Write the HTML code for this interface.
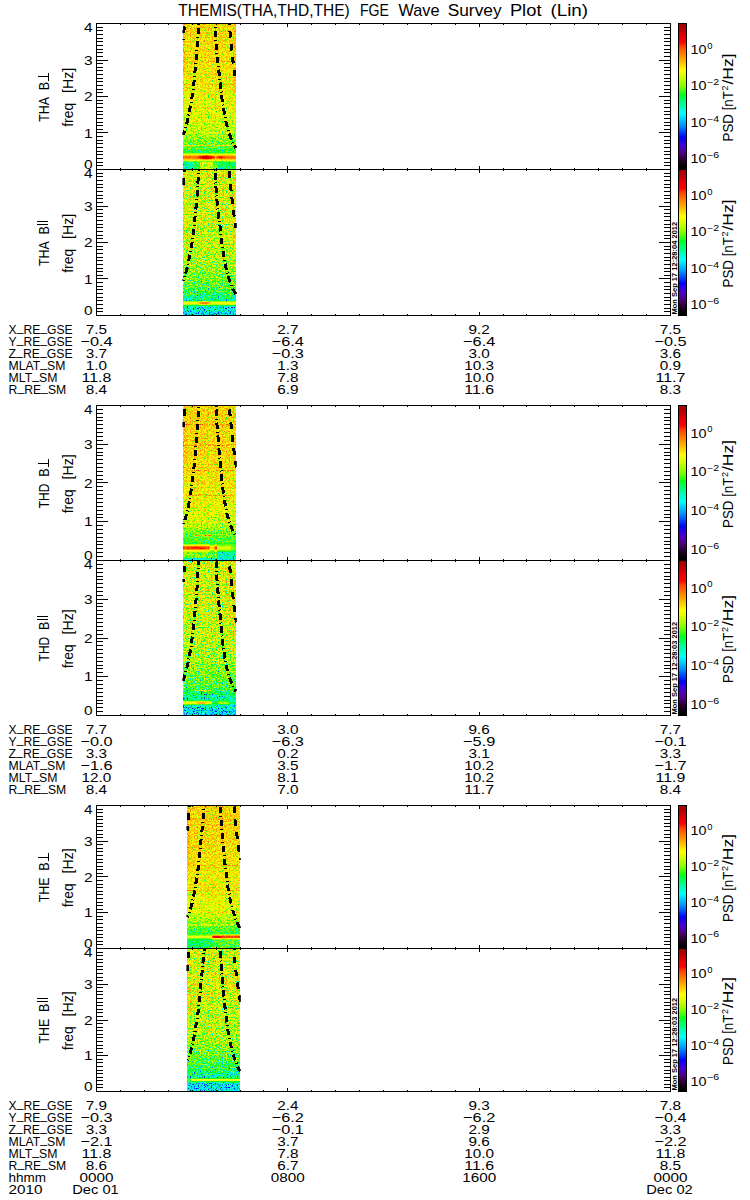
<!DOCTYPE html>
<html><head><meta charset="utf-8"><title>THEMIS FGE Wave Survey Plot</title>
<style>html,body{margin:0;padding:0;background:#fff;}body{width:750px;height:1200px;overflow:hidden;font-family:"Liberation Sans",sans-serif;}svg{display:block}text{font-family:"Liberation Sans",sans-serif;fill:#000;}</style>
</head><body>
<svg width="750" height="1200" viewBox="0 0 750 1200">
<defs>
<linearGradient id="cb" x1="0" y1="0" x2="0" y2="1">
<stop offset="0" stop-color="#9c0000"/>
<stop offset="0.05" stop-color="#c00000"/>
<stop offset="0.09" stop-color="#f00000"/>
<stop offset="0.13" stop-color="#ff0000"/>
<stop offset="0.155" stop-color="#ff3c00"/>
<stop offset="0.205" stop-color="#ff7800"/>
<stop offset="0.265" stop-color="#ffbc00"/>
<stop offset="0.32" stop-color="#ffff00"/>
<stop offset="0.36" stop-color="#dcff00"/>
<stop offset="0.43" stop-color="#80ff00"/>
<stop offset="0.49" stop-color="#00ff20"/>
<stop offset="0.55" stop-color="#00ff90"/>
<stop offset="0.62" stop-color="#00ffff"/>
<stop offset="0.7" stop-color="#0090ff"/>
<stop offset="0.78" stop-color="#0000ff"/>
<stop offset="0.84" stop-color="#4c00d0"/>
<stop offset="0.89" stop-color="#500080"/>
<stop offset="0.94" stop-color="#240028"/>
<stop offset="0.985" stop-color="#000000"/>
<stop offset="1" stop-color="#000000"/>
</linearGradient>
</defs>
<rect width="750" height="1200" fill="#fff"/>
<defs>
<linearGradient id="bg0" x1="0" y1="0" x2="0" y2="1">
<stop offset="0.0000" stop-color="#b9b9b9"/>
<stop offset="0.2500" stop-color="#b6b6b6"/>
<stop offset="0.3750" stop-color="#b4b4b4"/>
<stop offset="0.5000" stop-color="#b0b0b0"/>
<stop offset="0.6250" stop-color="#ababab"/>
<stop offset="0.7250" stop-color="#a4a4a4"/>
<stop offset="0.7625" stop-color="#9f9f9f"/>
<stop offset="0.8000" stop-color="#999999"/>
<stop offset="0.8375" stop-color="#939393"/>
<stop offset="0.8800" stop-color="#8e8e8e"/>
<stop offset="1.0000" stop-color="#8e8e8e"/>
</linearGradient>
<filter id="fn0" filterUnits="userSpaceOnUse" x="183" y="23.5" width="53" height="146.0" color-interpolation-filters="sRGB">
<feTurbulence type="fractalNoise" baseFrequency="0.72 0.7" numOctaves="1" seed="3" result="n"/>
<feColorMatrix in="n" type="matrix" values="1 0 0 0 0 1 0 0 0 0 1 0 0 0 0 0 0 0 0 1" result="g0"/>
<feComponentTransfer in="g0" result="g"><feFuncR type="table" tableValues="0.000 0.010 0.031 0.073 0.135 0.219 0.333 0.458 0.544 0.619 0.685 0.744 0.792 0.831 0.871 0.917 0.937 0.958 0.979 0.990 1.000"/><feFuncG type="table" tableValues="0.000 0.010 0.031 0.073 0.135 0.219 0.333 0.458 0.544 0.619 0.685 0.744 0.792 0.831 0.871 0.917 0.937 0.958 0.979 0.990 1.000"/><feFuncB type="table" tableValues="0.000 0.010 0.031 0.073 0.135 0.219 0.333 0.458 0.544 0.619 0.685 0.744 0.792 0.831 0.871 0.917 0.937 0.958 0.979 0.990 1.000"/></feComponentTransfer>
<feComposite in="SourceGraphic" in2="g" operator="arithmetic" k1="0" k2="1" k3="0.3840" k4="-0.2800" result="v"/>
<feComponentTransfer in="v">
<feFuncR type="table" tableValues="0.000 0.003 0.053 0.102 0.153 0.208 0.263 0.313 0.308 0.303 0.298 0.226 0.147 0.068 0.000 0.000 0.000 0.000 0.000 0.000 0.000 0.000 0.000 0.000 0.000 0.000 0.000 0.000 0.000 0.000 0.000 0.000 0.000 0.116 0.248 0.381 0.509 0.591 0.673 0.755 0.837 0.900 0.954 1.000 1.000 1.000 1.000 1.000 1.000 1.000 1.000 1.000 1.000 1.000 1.000 0.996 0.972 0.949 0.891 0.816 0.746 0.701 0.657 0.612"/>
<feFuncG type="table" tableValues="0.000 0.000 0.000 0.000 0.000 0.000 0.000 0.000 0.000 0.000 0.000 0.000 0.000 0.000 0.016 0.128 0.240 0.352 0.464 0.573 0.660 0.746 0.832 0.919 1.000 1.000 1.000 1.000 1.000 1.000 1.000 1.000 1.000 1.000 1.000 1.000 1.000 1.000 1.000 1.000 1.000 1.000 1.000 0.988 0.912 0.836 0.760 0.688 0.618 0.547 0.477 0.402 0.328 0.253 0.121 0.000 0.000 0.000 0.000 0.000 0.000 0.000 0.000 0.000"/>
<feFuncB type="table" tableValues="0.000 0.003 0.058 0.114 0.181 0.291 0.400 0.509 0.609 0.708 0.808 0.861 0.909 0.958 1.000 1.000 1.000 1.000 1.000 1.000 1.000 1.000 1.000 1.000 0.994 0.895 0.797 0.698 0.599 0.489 0.373 0.257 0.141 0.097 0.063 0.030 0.000 0.000 0.000 0.000 0.000 0.000 0.000 0.000 0.000 0.000 0.000 0.000 0.000 0.000 0.000 0.000 0.000 0.000 0.000 0.000 0.000 0.000 0.000 0.000 0.000 0.000 0.000 0.000"/>
</feComponentTransfer></filter>
<filter id="fs0" filterUnits="userSpaceOnUse" x="183" y="23.5" width="53" height="146.0" color-interpolation-filters="sRGB">
<feTurbulence type="fractalNoise" baseFrequency="0.72 0.7" numOctaves="1" seed="3" result="n"/>
<feColorMatrix in="n" type="matrix" values="1 0 0 0 0 1 0 0 0 0 1 0 0 0 0 0 0 0 0 1" result="g0"/>
<feComponentTransfer in="g0" result="g"><feFuncR type="table" tableValues="0.000 0.010 0.031 0.073 0.135 0.219 0.333 0.458 0.544 0.619 0.685 0.744 0.792 0.831 0.871 0.917 0.937 0.958 0.979 0.990 1.000"/><feFuncG type="table" tableValues="0.000 0.010 0.031 0.073 0.135 0.219 0.333 0.458 0.544 0.619 0.685 0.744 0.792 0.831 0.871 0.917 0.937 0.958 0.979 0.990 1.000"/><feFuncB type="table" tableValues="0.000 0.010 0.031 0.073 0.135 0.219 0.333 0.458 0.544 0.619 0.685 0.744 0.792 0.831 0.871 0.917 0.937 0.958 0.979 0.990 1.000"/></feComponentTransfer>
<feComposite in="SourceGraphic" in2="g" operator="arithmetic" k1="0" k2="1" k3="0.1056" k4="-0.0770" result="v"/>
<feComponentTransfer in="v">
<feFuncR type="table" tableValues="0.000 0.003 0.053 0.102 0.153 0.208 0.263 0.313 0.308 0.303 0.298 0.226 0.147 0.068 0.000 0.000 0.000 0.000 0.000 0.000 0.000 0.000 0.000 0.000 0.000 0.000 0.000 0.000 0.000 0.000 0.000 0.000 0.000 0.116 0.248 0.381 0.509 0.591 0.673 0.755 0.837 0.900 0.954 1.000 1.000 1.000 1.000 1.000 1.000 1.000 1.000 1.000 1.000 1.000 1.000 0.996 0.972 0.949 0.891 0.816 0.746 0.701 0.657 0.612"/>
<feFuncG type="table" tableValues="0.000 0.000 0.000 0.000 0.000 0.000 0.000 0.000 0.000 0.000 0.000 0.000 0.000 0.000 0.016 0.128 0.240 0.352 0.464 0.573 0.660 0.746 0.832 0.919 1.000 1.000 1.000 1.000 1.000 1.000 1.000 1.000 1.000 1.000 1.000 1.000 1.000 1.000 1.000 1.000 1.000 1.000 1.000 0.988 0.912 0.836 0.760 0.688 0.618 0.547 0.477 0.402 0.328 0.253 0.121 0.000 0.000 0.000 0.000 0.000 0.000 0.000 0.000 0.000"/>
<feFuncB type="table" tableValues="0.000 0.003 0.058 0.114 0.181 0.291 0.400 0.509 0.609 0.708 0.808 0.861 0.909 0.958 1.000 1.000 1.000 1.000 1.000 1.000 1.000 1.000 1.000 1.000 0.994 0.895 0.797 0.698 0.599 0.489 0.373 0.257 0.141 0.097 0.063 0.030 0.000 0.000 0.000 0.000 0.000 0.000 0.000 0.000 0.000 0.000 0.000 0.000 0.000 0.000 0.000 0.000 0.000 0.000 0.000 0.000 0.000 0.000 0.000 0.000 0.000 0.000 0.000 0.000"/>
</feComponentTransfer></filter>
<linearGradient id="bg1" x1="0" y1="0" x2="0" y2="1">
<stop offset="0.0000" stop-color="#acacac"/>
<stop offset="0.2500" stop-color="#acacac"/>
<stop offset="0.5000" stop-color="#a8a8a8"/>
<stop offset="0.6250" stop-color="#a2a2a2"/>
<stop offset="0.7500" stop-color="#989898"/>
<stop offset="0.8250" stop-color="#8f8f8f"/>
<stop offset="0.8625" stop-color="#828282"/>
<stop offset="0.9000" stop-color="#787878"/>
<stop offset="1.0000" stop-color="#787878"/>
</linearGradient>
<filter id="fn1" filterUnits="userSpaceOnUse" x="183" y="169.5" width="53" height="146.0" color-interpolation-filters="sRGB">
<feTurbulence type="fractalNoise" baseFrequency="0.72 0.7" numOctaves="1" seed="10" result="n"/>
<feColorMatrix in="n" type="matrix" values="1 0 0 0 0 1 0 0 0 0 1 0 0 0 0 0 0 0 0 1" result="g0"/>
<feComponentTransfer in="g0" result="g"><feFuncR type="table" tableValues="0.000 0.010 0.031 0.073 0.135 0.219 0.333 0.458 0.544 0.619 0.685 0.744 0.792 0.831 0.871 0.917 0.937 0.958 0.979 0.990 1.000"/><feFuncG type="table" tableValues="0.000 0.010 0.031 0.073 0.135 0.219 0.333 0.458 0.544 0.619 0.685 0.744 0.792 0.831 0.871 0.917 0.937 0.958 0.979 0.990 1.000"/><feFuncB type="table" tableValues="0.000 0.010 0.031 0.073 0.135 0.219 0.333 0.458 0.544 0.619 0.685 0.744 0.792 0.831 0.871 0.917 0.937 0.958 0.979 0.990 1.000"/></feComponentTransfer>
<feComposite in="SourceGraphic" in2="g" operator="arithmetic" k1="0" k2="1" k3="0.5376" k4="-0.3920" result="v"/>
<feComponentTransfer in="v">
<feFuncR type="table" tableValues="0.000 0.003 0.053 0.102 0.153 0.208 0.263 0.313 0.308 0.303 0.298 0.226 0.147 0.068 0.000 0.000 0.000 0.000 0.000 0.000 0.000 0.000 0.000 0.000 0.000 0.000 0.000 0.000 0.000 0.000 0.000 0.000 0.000 0.116 0.248 0.381 0.509 0.591 0.673 0.755 0.837 0.900 0.954 1.000 1.000 1.000 1.000 1.000 1.000 1.000 1.000 1.000 1.000 1.000 1.000 0.996 0.972 0.949 0.891 0.816 0.746 0.701 0.657 0.612"/>
<feFuncG type="table" tableValues="0.000 0.000 0.000 0.000 0.000 0.000 0.000 0.000 0.000 0.000 0.000 0.000 0.000 0.000 0.016 0.128 0.240 0.352 0.464 0.573 0.660 0.746 0.832 0.919 1.000 1.000 1.000 1.000 1.000 1.000 1.000 1.000 1.000 1.000 1.000 1.000 1.000 1.000 1.000 1.000 1.000 1.000 1.000 0.988 0.912 0.836 0.760 0.688 0.618 0.547 0.477 0.402 0.328 0.253 0.121 0.000 0.000 0.000 0.000 0.000 0.000 0.000 0.000 0.000"/>
<feFuncB type="table" tableValues="0.000 0.003 0.058 0.114 0.181 0.291 0.400 0.509 0.609 0.708 0.808 0.861 0.909 0.958 1.000 1.000 1.000 1.000 1.000 1.000 1.000 1.000 1.000 1.000 0.994 0.895 0.797 0.698 0.599 0.489 0.373 0.257 0.141 0.097 0.063 0.030 0.000 0.000 0.000 0.000 0.000 0.000 0.000 0.000 0.000 0.000 0.000 0.000 0.000 0.000 0.000 0.000 0.000 0.000 0.000 0.000 0.000 0.000 0.000 0.000 0.000 0.000 0.000 0.000"/>
</feComponentTransfer></filter>
<filter id="fs1" filterUnits="userSpaceOnUse" x="183" y="169.5" width="53" height="146.0" color-interpolation-filters="sRGB">
<feTurbulence type="fractalNoise" baseFrequency="0.72 0.7" numOctaves="1" seed="10" result="n"/>
<feColorMatrix in="n" type="matrix" values="1 0 0 0 0 1 0 0 0 0 1 0 0 0 0 0 0 0 0 1" result="g0"/>
<feComponentTransfer in="g0" result="g"><feFuncR type="table" tableValues="0.000 0.010 0.031 0.073 0.135 0.219 0.333 0.458 0.544 0.619 0.685 0.744 0.792 0.831 0.871 0.917 0.937 0.958 0.979 0.990 1.000"/><feFuncG type="table" tableValues="0.000 0.010 0.031 0.073 0.135 0.219 0.333 0.458 0.544 0.619 0.685 0.744 0.792 0.831 0.871 0.917 0.937 0.958 0.979 0.990 1.000"/><feFuncB type="table" tableValues="0.000 0.010 0.031 0.073 0.135 0.219 0.333 0.458 0.544 0.619 0.685 0.744 0.792 0.831 0.871 0.917 0.937 0.958 0.979 0.990 1.000"/></feComponentTransfer>
<feComposite in="SourceGraphic" in2="g" operator="arithmetic" k1="0" k2="1" k3="0.1056" k4="-0.0770" result="v"/>
<feComponentTransfer in="v">
<feFuncR type="table" tableValues="0.000 0.003 0.053 0.102 0.153 0.208 0.263 0.313 0.308 0.303 0.298 0.226 0.147 0.068 0.000 0.000 0.000 0.000 0.000 0.000 0.000 0.000 0.000 0.000 0.000 0.000 0.000 0.000 0.000 0.000 0.000 0.000 0.000 0.116 0.248 0.381 0.509 0.591 0.673 0.755 0.837 0.900 0.954 1.000 1.000 1.000 1.000 1.000 1.000 1.000 1.000 1.000 1.000 1.000 1.000 0.996 0.972 0.949 0.891 0.816 0.746 0.701 0.657 0.612"/>
<feFuncG type="table" tableValues="0.000 0.000 0.000 0.000 0.000 0.000 0.000 0.000 0.000 0.000 0.000 0.000 0.000 0.000 0.016 0.128 0.240 0.352 0.464 0.573 0.660 0.746 0.832 0.919 1.000 1.000 1.000 1.000 1.000 1.000 1.000 1.000 1.000 1.000 1.000 1.000 1.000 1.000 1.000 1.000 1.000 1.000 1.000 0.988 0.912 0.836 0.760 0.688 0.618 0.547 0.477 0.402 0.328 0.253 0.121 0.000 0.000 0.000 0.000 0.000 0.000 0.000 0.000 0.000"/>
<feFuncB type="table" tableValues="0.000 0.003 0.058 0.114 0.181 0.291 0.400 0.509 0.609 0.708 0.808 0.861 0.909 0.958 1.000 1.000 1.000 1.000 1.000 1.000 1.000 1.000 1.000 1.000 0.994 0.895 0.797 0.698 0.599 0.489 0.373 0.257 0.141 0.097 0.063 0.030 0.000 0.000 0.000 0.000 0.000 0.000 0.000 0.000 0.000 0.000 0.000 0.000 0.000 0.000 0.000 0.000 0.000 0.000 0.000 0.000 0.000 0.000 0.000 0.000 0.000 0.000 0.000 0.000"/>
</feComponentTransfer></filter>
<linearGradient id="bg2" x1="0" y1="0" x2="0" y2="1">
<stop offset="0.0000" stop-color="#bababa"/>
<stop offset="0.2500" stop-color="#b9b9b9"/>
<stop offset="0.4250" stop-color="#b6b6b6"/>
<stop offset="0.6250" stop-color="#b1b1b1"/>
<stop offset="0.7250" stop-color="#aaaaaa"/>
<stop offset="0.7750" stop-color="#a2a2a2"/>
<stop offset="0.8250" stop-color="#969696"/>
<stop offset="0.8750" stop-color="#8c8c8c"/>
<stop offset="1.0000" stop-color="#8c8c8c"/>
</linearGradient>
<filter id="fn2" filterUnits="userSpaceOnUse" x="183" y="405.5" width="53" height="155.0" color-interpolation-filters="sRGB">
<feTurbulence type="fractalNoise" baseFrequency="0.72 0.7" numOctaves="1" seed="17" result="n"/>
<feColorMatrix in="n" type="matrix" values="1 0 0 0 0 1 0 0 0 0 1 0 0 0 0 0 0 0 0 1" result="g0"/>
<feComponentTransfer in="g0" result="g"><feFuncR type="table" tableValues="0.000 0.010 0.031 0.073 0.135 0.219 0.333 0.458 0.544 0.619 0.685 0.744 0.792 0.831 0.871 0.917 0.937 0.958 0.979 0.990 1.000"/><feFuncG type="table" tableValues="0.000 0.010 0.031 0.073 0.135 0.219 0.333 0.458 0.544 0.619 0.685 0.744 0.792 0.831 0.871 0.917 0.937 0.958 0.979 0.990 1.000"/><feFuncB type="table" tableValues="0.000 0.010 0.031 0.073 0.135 0.219 0.333 0.458 0.544 0.619 0.685 0.744 0.792 0.831 0.871 0.917 0.937 0.958 0.979 0.990 1.000"/></feComponentTransfer>
<feComposite in="SourceGraphic" in2="g" operator="arithmetic" k1="0" k2="1" k3="0.3840" k4="-0.2800" result="v"/>
<feComponentTransfer in="v">
<feFuncR type="table" tableValues="0.000 0.003 0.053 0.102 0.153 0.208 0.263 0.313 0.308 0.303 0.298 0.226 0.147 0.068 0.000 0.000 0.000 0.000 0.000 0.000 0.000 0.000 0.000 0.000 0.000 0.000 0.000 0.000 0.000 0.000 0.000 0.000 0.000 0.116 0.248 0.381 0.509 0.591 0.673 0.755 0.837 0.900 0.954 1.000 1.000 1.000 1.000 1.000 1.000 1.000 1.000 1.000 1.000 1.000 1.000 0.996 0.972 0.949 0.891 0.816 0.746 0.701 0.657 0.612"/>
<feFuncG type="table" tableValues="0.000 0.000 0.000 0.000 0.000 0.000 0.000 0.000 0.000 0.000 0.000 0.000 0.000 0.000 0.016 0.128 0.240 0.352 0.464 0.573 0.660 0.746 0.832 0.919 1.000 1.000 1.000 1.000 1.000 1.000 1.000 1.000 1.000 1.000 1.000 1.000 1.000 1.000 1.000 1.000 1.000 1.000 1.000 0.988 0.912 0.836 0.760 0.688 0.618 0.547 0.477 0.402 0.328 0.253 0.121 0.000 0.000 0.000 0.000 0.000 0.000 0.000 0.000 0.000"/>
<feFuncB type="table" tableValues="0.000 0.003 0.058 0.114 0.181 0.291 0.400 0.509 0.609 0.708 0.808 0.861 0.909 0.958 1.000 1.000 1.000 1.000 1.000 1.000 1.000 1.000 1.000 1.000 0.994 0.895 0.797 0.698 0.599 0.489 0.373 0.257 0.141 0.097 0.063 0.030 0.000 0.000 0.000 0.000 0.000 0.000 0.000 0.000 0.000 0.000 0.000 0.000 0.000 0.000 0.000 0.000 0.000 0.000 0.000 0.000 0.000 0.000 0.000 0.000 0.000 0.000 0.000 0.000"/>
</feComponentTransfer></filter>
<filter id="fs2" filterUnits="userSpaceOnUse" x="183" y="405.5" width="53" height="155.0" color-interpolation-filters="sRGB">
<feTurbulence type="fractalNoise" baseFrequency="0.72 0.7" numOctaves="1" seed="17" result="n"/>
<feColorMatrix in="n" type="matrix" values="1 0 0 0 0 1 0 0 0 0 1 0 0 0 0 0 0 0 0 1" result="g0"/>
<feComponentTransfer in="g0" result="g"><feFuncR type="table" tableValues="0.000 0.010 0.031 0.073 0.135 0.219 0.333 0.458 0.544 0.619 0.685 0.744 0.792 0.831 0.871 0.917 0.937 0.958 0.979 0.990 1.000"/><feFuncG type="table" tableValues="0.000 0.010 0.031 0.073 0.135 0.219 0.333 0.458 0.544 0.619 0.685 0.744 0.792 0.831 0.871 0.917 0.937 0.958 0.979 0.990 1.000"/><feFuncB type="table" tableValues="0.000 0.010 0.031 0.073 0.135 0.219 0.333 0.458 0.544 0.619 0.685 0.744 0.792 0.831 0.871 0.917 0.937 0.958 0.979 0.990 1.000"/></feComponentTransfer>
<feComposite in="SourceGraphic" in2="g" operator="arithmetic" k1="0" k2="1" k3="0.1056" k4="-0.0770" result="v"/>
<feComponentTransfer in="v">
<feFuncR type="table" tableValues="0.000 0.003 0.053 0.102 0.153 0.208 0.263 0.313 0.308 0.303 0.298 0.226 0.147 0.068 0.000 0.000 0.000 0.000 0.000 0.000 0.000 0.000 0.000 0.000 0.000 0.000 0.000 0.000 0.000 0.000 0.000 0.000 0.000 0.116 0.248 0.381 0.509 0.591 0.673 0.755 0.837 0.900 0.954 1.000 1.000 1.000 1.000 1.000 1.000 1.000 1.000 1.000 1.000 1.000 1.000 0.996 0.972 0.949 0.891 0.816 0.746 0.701 0.657 0.612"/>
<feFuncG type="table" tableValues="0.000 0.000 0.000 0.000 0.000 0.000 0.000 0.000 0.000 0.000 0.000 0.000 0.000 0.000 0.016 0.128 0.240 0.352 0.464 0.573 0.660 0.746 0.832 0.919 1.000 1.000 1.000 1.000 1.000 1.000 1.000 1.000 1.000 1.000 1.000 1.000 1.000 1.000 1.000 1.000 1.000 1.000 1.000 0.988 0.912 0.836 0.760 0.688 0.618 0.547 0.477 0.402 0.328 0.253 0.121 0.000 0.000 0.000 0.000 0.000 0.000 0.000 0.000 0.000"/>
<feFuncB type="table" tableValues="0.000 0.003 0.058 0.114 0.181 0.291 0.400 0.509 0.609 0.708 0.808 0.861 0.909 0.958 1.000 1.000 1.000 1.000 1.000 1.000 1.000 1.000 1.000 1.000 0.994 0.895 0.797 0.698 0.599 0.489 0.373 0.257 0.141 0.097 0.063 0.030 0.000 0.000 0.000 0.000 0.000 0.000 0.000 0.000 0.000 0.000 0.000 0.000 0.000 0.000 0.000 0.000 0.000 0.000 0.000 0.000 0.000 0.000 0.000 0.000 0.000 0.000 0.000 0.000"/>
</feComponentTransfer></filter>
<linearGradient id="bg3" x1="0" y1="0" x2="0" y2="1">
<stop offset="0.0000" stop-color="#acacac"/>
<stop offset="0.2500" stop-color="#acacac"/>
<stop offset="0.5000" stop-color="#a7a7a7"/>
<stop offset="0.6250" stop-color="#a1a1a1"/>
<stop offset="0.7500" stop-color="#969696"/>
<stop offset="0.8250" stop-color="#8e8e8e"/>
<stop offset="0.8625" stop-color="#7d7d7d"/>
<stop offset="0.9000" stop-color="#757575"/>
<stop offset="1.0000" stop-color="#757575"/>
</linearGradient>
<filter id="fn3" filterUnits="userSpaceOnUse" x="183" y="560.5" width="53" height="155.0" color-interpolation-filters="sRGB">
<feTurbulence type="fractalNoise" baseFrequency="0.72 0.7" numOctaves="1" seed="24" result="n"/>
<feColorMatrix in="n" type="matrix" values="1 0 0 0 0 1 0 0 0 0 1 0 0 0 0 0 0 0 0 1" result="g0"/>
<feComponentTransfer in="g0" result="g"><feFuncR type="table" tableValues="0.000 0.010 0.031 0.073 0.135 0.219 0.333 0.458 0.544 0.619 0.685 0.744 0.792 0.831 0.871 0.917 0.937 0.958 0.979 0.990 1.000"/><feFuncG type="table" tableValues="0.000 0.010 0.031 0.073 0.135 0.219 0.333 0.458 0.544 0.619 0.685 0.744 0.792 0.831 0.871 0.917 0.937 0.958 0.979 0.990 1.000"/><feFuncB type="table" tableValues="0.000 0.010 0.031 0.073 0.135 0.219 0.333 0.458 0.544 0.619 0.685 0.744 0.792 0.831 0.871 0.917 0.937 0.958 0.979 0.990 1.000"/></feComponentTransfer>
<feComposite in="SourceGraphic" in2="g" operator="arithmetic" k1="0" k2="1" k3="0.5376" k4="-0.3920" result="v"/>
<feComponentTransfer in="v">
<feFuncR type="table" tableValues="0.000 0.003 0.053 0.102 0.153 0.208 0.263 0.313 0.308 0.303 0.298 0.226 0.147 0.068 0.000 0.000 0.000 0.000 0.000 0.000 0.000 0.000 0.000 0.000 0.000 0.000 0.000 0.000 0.000 0.000 0.000 0.000 0.000 0.116 0.248 0.381 0.509 0.591 0.673 0.755 0.837 0.900 0.954 1.000 1.000 1.000 1.000 1.000 1.000 1.000 1.000 1.000 1.000 1.000 1.000 0.996 0.972 0.949 0.891 0.816 0.746 0.701 0.657 0.612"/>
<feFuncG type="table" tableValues="0.000 0.000 0.000 0.000 0.000 0.000 0.000 0.000 0.000 0.000 0.000 0.000 0.000 0.000 0.016 0.128 0.240 0.352 0.464 0.573 0.660 0.746 0.832 0.919 1.000 1.000 1.000 1.000 1.000 1.000 1.000 1.000 1.000 1.000 1.000 1.000 1.000 1.000 1.000 1.000 1.000 1.000 1.000 0.988 0.912 0.836 0.760 0.688 0.618 0.547 0.477 0.402 0.328 0.253 0.121 0.000 0.000 0.000 0.000 0.000 0.000 0.000 0.000 0.000"/>
<feFuncB type="table" tableValues="0.000 0.003 0.058 0.114 0.181 0.291 0.400 0.509 0.609 0.708 0.808 0.861 0.909 0.958 1.000 1.000 1.000 1.000 1.000 1.000 1.000 1.000 1.000 1.000 0.994 0.895 0.797 0.698 0.599 0.489 0.373 0.257 0.141 0.097 0.063 0.030 0.000 0.000 0.000 0.000 0.000 0.000 0.000 0.000 0.000 0.000 0.000 0.000 0.000 0.000 0.000 0.000 0.000 0.000 0.000 0.000 0.000 0.000 0.000 0.000 0.000 0.000 0.000 0.000"/>
</feComponentTransfer></filter>
<filter id="fs3" filterUnits="userSpaceOnUse" x="183" y="560.5" width="53" height="155.0" color-interpolation-filters="sRGB">
<feTurbulence type="fractalNoise" baseFrequency="0.72 0.7" numOctaves="1" seed="24" result="n"/>
<feColorMatrix in="n" type="matrix" values="1 0 0 0 0 1 0 0 0 0 1 0 0 0 0 0 0 0 0 1" result="g0"/>
<feComponentTransfer in="g0" result="g"><feFuncR type="table" tableValues="0.000 0.010 0.031 0.073 0.135 0.219 0.333 0.458 0.544 0.619 0.685 0.744 0.792 0.831 0.871 0.917 0.937 0.958 0.979 0.990 1.000"/><feFuncG type="table" tableValues="0.000 0.010 0.031 0.073 0.135 0.219 0.333 0.458 0.544 0.619 0.685 0.744 0.792 0.831 0.871 0.917 0.937 0.958 0.979 0.990 1.000"/><feFuncB type="table" tableValues="0.000 0.010 0.031 0.073 0.135 0.219 0.333 0.458 0.544 0.619 0.685 0.744 0.792 0.831 0.871 0.917 0.937 0.958 0.979 0.990 1.000"/></feComponentTransfer>
<feComposite in="SourceGraphic" in2="g" operator="arithmetic" k1="0" k2="1" k3="0.1056" k4="-0.0770" result="v"/>
<feComponentTransfer in="v">
<feFuncR type="table" tableValues="0.000 0.003 0.053 0.102 0.153 0.208 0.263 0.313 0.308 0.303 0.298 0.226 0.147 0.068 0.000 0.000 0.000 0.000 0.000 0.000 0.000 0.000 0.000 0.000 0.000 0.000 0.000 0.000 0.000 0.000 0.000 0.000 0.000 0.116 0.248 0.381 0.509 0.591 0.673 0.755 0.837 0.900 0.954 1.000 1.000 1.000 1.000 1.000 1.000 1.000 1.000 1.000 1.000 1.000 1.000 0.996 0.972 0.949 0.891 0.816 0.746 0.701 0.657 0.612"/>
<feFuncG type="table" tableValues="0.000 0.000 0.000 0.000 0.000 0.000 0.000 0.000 0.000 0.000 0.000 0.000 0.000 0.000 0.016 0.128 0.240 0.352 0.464 0.573 0.660 0.746 0.832 0.919 1.000 1.000 1.000 1.000 1.000 1.000 1.000 1.000 1.000 1.000 1.000 1.000 1.000 1.000 1.000 1.000 1.000 1.000 1.000 0.988 0.912 0.836 0.760 0.688 0.618 0.547 0.477 0.402 0.328 0.253 0.121 0.000 0.000 0.000 0.000 0.000 0.000 0.000 0.000 0.000"/>
<feFuncB type="table" tableValues="0.000 0.003 0.058 0.114 0.181 0.291 0.400 0.509 0.609 0.708 0.808 0.861 0.909 0.958 1.000 1.000 1.000 1.000 1.000 1.000 1.000 1.000 1.000 1.000 0.994 0.895 0.797 0.698 0.599 0.489 0.373 0.257 0.141 0.097 0.063 0.030 0.000 0.000 0.000 0.000 0.000 0.000 0.000 0.000 0.000 0.000 0.000 0.000 0.000 0.000 0.000 0.000 0.000 0.000 0.000 0.000 0.000 0.000 0.000 0.000 0.000 0.000 0.000 0.000"/>
</feComponentTransfer></filter>
<linearGradient id="bg4" x1="0" y1="0" x2="0" y2="1">
<stop offset="0.0000" stop-color="#bababa"/>
<stop offset="0.2500" stop-color="#b9b9b9"/>
<stop offset="0.3750" stop-color="#b6b6b6"/>
<stop offset="0.6250" stop-color="#b1b1b1"/>
<stop offset="0.7500" stop-color="#aaaaaa"/>
<stop offset="0.8000" stop-color="#9f9f9f"/>
<stop offset="0.8500" stop-color="#949494"/>
<stop offset="0.8875" stop-color="#8a8a8a"/>
<stop offset="1.0000" stop-color="#8a8a8a"/>
</linearGradient>
<filter id="fn4" filterUnits="userSpaceOnUse" x="187" y="805.5" width="53" height="143.0" color-interpolation-filters="sRGB">
<feTurbulence type="fractalNoise" baseFrequency="0.72 0.7" numOctaves="1" seed="31" result="n"/>
<feColorMatrix in="n" type="matrix" values="1 0 0 0 0 1 0 0 0 0 1 0 0 0 0 0 0 0 0 1" result="g0"/>
<feComponentTransfer in="g0" result="g"><feFuncR type="table" tableValues="0.000 0.010 0.031 0.073 0.135 0.219 0.333 0.458 0.544 0.619 0.685 0.744 0.792 0.831 0.871 0.917 0.937 0.958 0.979 0.990 1.000"/><feFuncG type="table" tableValues="0.000 0.010 0.031 0.073 0.135 0.219 0.333 0.458 0.544 0.619 0.685 0.744 0.792 0.831 0.871 0.917 0.937 0.958 0.979 0.990 1.000"/><feFuncB type="table" tableValues="0.000 0.010 0.031 0.073 0.135 0.219 0.333 0.458 0.544 0.619 0.685 0.744 0.792 0.831 0.871 0.917 0.937 0.958 0.979 0.990 1.000"/></feComponentTransfer>
<feComposite in="SourceGraphic" in2="g" operator="arithmetic" k1="0" k2="1" k3="0.3840" k4="-0.2800" result="v"/>
<feComponentTransfer in="v">
<feFuncR type="table" tableValues="0.000 0.003 0.053 0.102 0.153 0.208 0.263 0.313 0.308 0.303 0.298 0.226 0.147 0.068 0.000 0.000 0.000 0.000 0.000 0.000 0.000 0.000 0.000 0.000 0.000 0.000 0.000 0.000 0.000 0.000 0.000 0.000 0.000 0.116 0.248 0.381 0.509 0.591 0.673 0.755 0.837 0.900 0.954 1.000 1.000 1.000 1.000 1.000 1.000 1.000 1.000 1.000 1.000 1.000 1.000 0.996 0.972 0.949 0.891 0.816 0.746 0.701 0.657 0.612"/>
<feFuncG type="table" tableValues="0.000 0.000 0.000 0.000 0.000 0.000 0.000 0.000 0.000 0.000 0.000 0.000 0.000 0.000 0.016 0.128 0.240 0.352 0.464 0.573 0.660 0.746 0.832 0.919 1.000 1.000 1.000 1.000 1.000 1.000 1.000 1.000 1.000 1.000 1.000 1.000 1.000 1.000 1.000 1.000 1.000 1.000 1.000 0.988 0.912 0.836 0.760 0.688 0.618 0.547 0.477 0.402 0.328 0.253 0.121 0.000 0.000 0.000 0.000 0.000 0.000 0.000 0.000 0.000"/>
<feFuncB type="table" tableValues="0.000 0.003 0.058 0.114 0.181 0.291 0.400 0.509 0.609 0.708 0.808 0.861 0.909 0.958 1.000 1.000 1.000 1.000 1.000 1.000 1.000 1.000 1.000 1.000 0.994 0.895 0.797 0.698 0.599 0.489 0.373 0.257 0.141 0.097 0.063 0.030 0.000 0.000 0.000 0.000 0.000 0.000 0.000 0.000 0.000 0.000 0.000 0.000 0.000 0.000 0.000 0.000 0.000 0.000 0.000 0.000 0.000 0.000 0.000 0.000 0.000 0.000 0.000 0.000"/>
</feComponentTransfer></filter>
<filter id="fs4" filterUnits="userSpaceOnUse" x="187" y="805.5" width="53" height="143.0" color-interpolation-filters="sRGB">
<feTurbulence type="fractalNoise" baseFrequency="0.72 0.7" numOctaves="1" seed="31" result="n"/>
<feColorMatrix in="n" type="matrix" values="1 0 0 0 0 1 0 0 0 0 1 0 0 0 0 0 0 0 0 1" result="g0"/>
<feComponentTransfer in="g0" result="g"><feFuncR type="table" tableValues="0.000 0.010 0.031 0.073 0.135 0.219 0.333 0.458 0.544 0.619 0.685 0.744 0.792 0.831 0.871 0.917 0.937 0.958 0.979 0.990 1.000"/><feFuncG type="table" tableValues="0.000 0.010 0.031 0.073 0.135 0.219 0.333 0.458 0.544 0.619 0.685 0.744 0.792 0.831 0.871 0.917 0.937 0.958 0.979 0.990 1.000"/><feFuncB type="table" tableValues="0.000 0.010 0.031 0.073 0.135 0.219 0.333 0.458 0.544 0.619 0.685 0.744 0.792 0.831 0.871 0.917 0.937 0.958 0.979 0.990 1.000"/></feComponentTransfer>
<feComposite in="SourceGraphic" in2="g" operator="arithmetic" k1="0" k2="1" k3="0.1056" k4="-0.0770" result="v"/>
<feComponentTransfer in="v">
<feFuncR type="table" tableValues="0.000 0.003 0.053 0.102 0.153 0.208 0.263 0.313 0.308 0.303 0.298 0.226 0.147 0.068 0.000 0.000 0.000 0.000 0.000 0.000 0.000 0.000 0.000 0.000 0.000 0.000 0.000 0.000 0.000 0.000 0.000 0.000 0.000 0.116 0.248 0.381 0.509 0.591 0.673 0.755 0.837 0.900 0.954 1.000 1.000 1.000 1.000 1.000 1.000 1.000 1.000 1.000 1.000 1.000 1.000 0.996 0.972 0.949 0.891 0.816 0.746 0.701 0.657 0.612"/>
<feFuncG type="table" tableValues="0.000 0.000 0.000 0.000 0.000 0.000 0.000 0.000 0.000 0.000 0.000 0.000 0.000 0.000 0.016 0.128 0.240 0.352 0.464 0.573 0.660 0.746 0.832 0.919 1.000 1.000 1.000 1.000 1.000 1.000 1.000 1.000 1.000 1.000 1.000 1.000 1.000 1.000 1.000 1.000 1.000 1.000 1.000 0.988 0.912 0.836 0.760 0.688 0.618 0.547 0.477 0.402 0.328 0.253 0.121 0.000 0.000 0.000 0.000 0.000 0.000 0.000 0.000 0.000"/>
<feFuncB type="table" tableValues="0.000 0.003 0.058 0.114 0.181 0.291 0.400 0.509 0.609 0.708 0.808 0.861 0.909 0.958 1.000 1.000 1.000 1.000 1.000 1.000 1.000 1.000 1.000 1.000 0.994 0.895 0.797 0.698 0.599 0.489 0.373 0.257 0.141 0.097 0.063 0.030 0.000 0.000 0.000 0.000 0.000 0.000 0.000 0.000 0.000 0.000 0.000 0.000 0.000 0.000 0.000 0.000 0.000 0.000 0.000 0.000 0.000 0.000 0.000 0.000 0.000 0.000 0.000 0.000"/>
</feComponentTransfer></filter>
<linearGradient id="bg5" x1="0" y1="0" x2="0" y2="1">
<stop offset="0.0000" stop-color="#adadad"/>
<stop offset="0.2500" stop-color="#adadad"/>
<stop offset="0.5000" stop-color="#a8a8a8"/>
<stop offset="0.6250" stop-color="#a1a1a1"/>
<stop offset="0.7500" stop-color="#949494"/>
<stop offset="0.8250" stop-color="#8b8b8b"/>
<stop offset="0.8625" stop-color="#828282"/>
<stop offset="0.9000" stop-color="#7a7a7a"/>
<stop offset="1.0000" stop-color="#7a7a7a"/>
</linearGradient>
<filter id="fn5" filterUnits="userSpaceOnUse" x="187" y="948.5" width="53" height="143.0" color-interpolation-filters="sRGB">
<feTurbulence type="fractalNoise" baseFrequency="0.72 0.7" numOctaves="1" seed="38" result="n"/>
<feColorMatrix in="n" type="matrix" values="1 0 0 0 0 1 0 0 0 0 1 0 0 0 0 0 0 0 0 1" result="g0"/>
<feComponentTransfer in="g0" result="g"><feFuncR type="table" tableValues="0.000 0.010 0.031 0.073 0.135 0.219 0.333 0.458 0.544 0.619 0.685 0.744 0.792 0.831 0.871 0.917 0.937 0.958 0.979 0.990 1.000"/><feFuncG type="table" tableValues="0.000 0.010 0.031 0.073 0.135 0.219 0.333 0.458 0.544 0.619 0.685 0.744 0.792 0.831 0.871 0.917 0.937 0.958 0.979 0.990 1.000"/><feFuncB type="table" tableValues="0.000 0.010 0.031 0.073 0.135 0.219 0.333 0.458 0.544 0.619 0.685 0.744 0.792 0.831 0.871 0.917 0.937 0.958 0.979 0.990 1.000"/></feComponentTransfer>
<feComposite in="SourceGraphic" in2="g" operator="arithmetic" k1="0" k2="1" k3="0.5376" k4="-0.3920" result="v"/>
<feComponentTransfer in="v">
<feFuncR type="table" tableValues="0.000 0.003 0.053 0.102 0.153 0.208 0.263 0.313 0.308 0.303 0.298 0.226 0.147 0.068 0.000 0.000 0.000 0.000 0.000 0.000 0.000 0.000 0.000 0.000 0.000 0.000 0.000 0.000 0.000 0.000 0.000 0.000 0.000 0.116 0.248 0.381 0.509 0.591 0.673 0.755 0.837 0.900 0.954 1.000 1.000 1.000 1.000 1.000 1.000 1.000 1.000 1.000 1.000 1.000 1.000 0.996 0.972 0.949 0.891 0.816 0.746 0.701 0.657 0.612"/>
<feFuncG type="table" tableValues="0.000 0.000 0.000 0.000 0.000 0.000 0.000 0.000 0.000 0.000 0.000 0.000 0.000 0.000 0.016 0.128 0.240 0.352 0.464 0.573 0.660 0.746 0.832 0.919 1.000 1.000 1.000 1.000 1.000 1.000 1.000 1.000 1.000 1.000 1.000 1.000 1.000 1.000 1.000 1.000 1.000 1.000 1.000 0.988 0.912 0.836 0.760 0.688 0.618 0.547 0.477 0.402 0.328 0.253 0.121 0.000 0.000 0.000 0.000 0.000 0.000 0.000 0.000 0.000"/>
<feFuncB type="table" tableValues="0.000 0.003 0.058 0.114 0.181 0.291 0.400 0.509 0.609 0.708 0.808 0.861 0.909 0.958 1.000 1.000 1.000 1.000 1.000 1.000 1.000 1.000 1.000 1.000 0.994 0.895 0.797 0.698 0.599 0.489 0.373 0.257 0.141 0.097 0.063 0.030 0.000 0.000 0.000 0.000 0.000 0.000 0.000 0.000 0.000 0.000 0.000 0.000 0.000 0.000 0.000 0.000 0.000 0.000 0.000 0.000 0.000 0.000 0.000 0.000 0.000 0.000 0.000 0.000"/>
</feComponentTransfer></filter>
<filter id="fs5" filterUnits="userSpaceOnUse" x="187" y="948.5" width="53" height="143.0" color-interpolation-filters="sRGB">
<feTurbulence type="fractalNoise" baseFrequency="0.72 0.7" numOctaves="1" seed="38" result="n"/>
<feColorMatrix in="n" type="matrix" values="1 0 0 0 0 1 0 0 0 0 1 0 0 0 0 0 0 0 0 1" result="g0"/>
<feComponentTransfer in="g0" result="g"><feFuncR type="table" tableValues="0.000 0.010 0.031 0.073 0.135 0.219 0.333 0.458 0.544 0.619 0.685 0.744 0.792 0.831 0.871 0.917 0.937 0.958 0.979 0.990 1.000"/><feFuncG type="table" tableValues="0.000 0.010 0.031 0.073 0.135 0.219 0.333 0.458 0.544 0.619 0.685 0.744 0.792 0.831 0.871 0.917 0.937 0.958 0.979 0.990 1.000"/><feFuncB type="table" tableValues="0.000 0.010 0.031 0.073 0.135 0.219 0.333 0.458 0.544 0.619 0.685 0.744 0.792 0.831 0.871 0.917 0.937 0.958 0.979 0.990 1.000"/></feComponentTransfer>
<feComposite in="SourceGraphic" in2="g" operator="arithmetic" k1="0" k2="1" k3="0.1056" k4="-0.0770" result="v"/>
<feComponentTransfer in="v">
<feFuncR type="table" tableValues="0.000 0.003 0.053 0.102 0.153 0.208 0.263 0.313 0.308 0.303 0.298 0.226 0.147 0.068 0.000 0.000 0.000 0.000 0.000 0.000 0.000 0.000 0.000 0.000 0.000 0.000 0.000 0.000 0.000 0.000 0.000 0.000 0.000 0.116 0.248 0.381 0.509 0.591 0.673 0.755 0.837 0.900 0.954 1.000 1.000 1.000 1.000 1.000 1.000 1.000 1.000 1.000 1.000 1.000 1.000 0.996 0.972 0.949 0.891 0.816 0.746 0.701 0.657 0.612"/>
<feFuncG type="table" tableValues="0.000 0.000 0.000 0.000 0.000 0.000 0.000 0.000 0.000 0.000 0.000 0.000 0.000 0.000 0.016 0.128 0.240 0.352 0.464 0.573 0.660 0.746 0.832 0.919 1.000 1.000 1.000 1.000 1.000 1.000 1.000 1.000 1.000 1.000 1.000 1.000 1.000 1.000 1.000 1.000 1.000 1.000 1.000 0.988 0.912 0.836 0.760 0.688 0.618 0.547 0.477 0.402 0.328 0.253 0.121 0.000 0.000 0.000 0.000 0.000 0.000 0.000 0.000 0.000"/>
<feFuncB type="table" tableValues="0.000 0.003 0.058 0.114 0.181 0.291 0.400 0.509 0.609 0.708 0.808 0.861 0.909 0.958 1.000 1.000 1.000 1.000 1.000 1.000 1.000 1.000 1.000 1.000 0.994 0.895 0.797 0.698 0.599 0.489 0.373 0.257 0.141 0.097 0.063 0.030 0.000 0.000 0.000 0.000 0.000 0.000 0.000 0.000 0.000 0.000 0.000 0.000 0.000 0.000 0.000 0.000 0.000 0.000 0.000 0.000 0.000 0.000 0.000 0.000 0.000 0.000 0.000 0.000"/>
</feComponentTransfer></filter>
</defs>
<g filter="url(#fn0)">
<rect x="183" y="23.5" width="53" height="146.0" fill="url(#bg0)"/>
<rect x="183" y="61.32" width="53.00" height="1.0" fill="#fff" fill-opacity="0.188"/>
<rect x="183" y="84.32" width="53.00" height="1.0" fill="#fff" fill-opacity="0.188"/>
<rect x="183" y="107.68" width="53.00" height="1.0" fill="#fff" fill-opacity="0.188"/>
<rect x="183" y="121.19" width="53.00" height="1.0" fill="#fff" fill-opacity="0.188"/>
<rect x="183" y="132.50" width="53.00" height="1.0" fill="#fff" fill-opacity="0.188"/>
<linearGradient id="va0_183" x1="0" y1="0" x2="0" y2="1"><stop offset="0" stop-color="#fff" stop-opacity="0.109"/><stop offset="0.7" stop-color="#fff" stop-opacity="0.109"/><stop offset="1" stop-color="#fff" stop-opacity="0"/></linearGradient>
<rect x="183" y="23.50" width="2.50" height="62.05" fill="url(#va0_183)"/>
<linearGradient id="va0_233" x1="0" y1="0" x2="0" y2="1"><stop offset="0" stop-color="#fff" stop-opacity="0.109"/><stop offset="0.7" stop-color="#fff" stop-opacity="0.109"/><stop offset="1" stop-color="#fff" stop-opacity="0"/></linearGradient>
<rect x="233.5" y="23.50" width="2.50" height="98.55" fill="url(#va0_233)"/>
<rect x="183" y="144.91" width="53.00" height="1.0" fill="#fff" fill-opacity="0.312"/>
<rect x="183" y="161.24" width="10.00" height="8.5" fill="#757575"/>
<rect x="193" y="161.24" width="7.00" height="8.5" fill="#8a8a8a"/>
<rect x="200" y="161.24" width="13.00" height="8.5" fill="#a8a8a8"/>
<rect x="213" y="161.24" width="5.00" height="8.5" fill="#949494"/>
<rect x="218" y="161.24" width="18.00" height="8.5" fill="#7d7d7d"/>
<rect x="183" y="149.84" width="53.00" height="5" fill="#858585"/>
</g>
<clipPath id="bc0"><rect x="183" y="152.60" width="53" height="9.60"/></clipPath>
<g filter="url(#fs0)" clip-path="url(#bc0)">
<linearGradient id="bd0_0" x1="0" y1="0" x2="0" y2="1"><stop offset="0" stop-color="#878787"/><stop offset="0.223" stop-color="#b0b0b0"/><stop offset="0.406" stop-color="#cccccc"/><stop offset="0.594" stop-color="#cccccc"/><stop offset="0.777" stop-color="#b0b0b0"/><stop offset="1" stop-color="#858585"/></linearGradient>
<rect x="183" y="152.60" width="53" height="9.60" fill="url(#bd0_0)"/>
<radialGradient id="rb0"><stop offset="0" stop-color="#fff" stop-opacity="1"/><stop offset="0.55" stop-color="#fff" stop-opacity="0.75"/><stop offset="1" stop-color="#fff" stop-opacity="0"/></radialGradient>
<ellipse cx="206" cy="157.4" rx="10" ry="2.6" fill="url(#rb0)" opacity="0.62"/>
<ellipse cx="205.5" cy="157.4" rx="5" ry="1.8" fill="url(#rb0)" opacity="0.5"/>
<ellipse cx="221" cy="157.4" rx="6" ry="1.6" fill="url(#rb0)" opacity="0.35"/>
<rect x="215.45000000000002" y="152.60" width="0.7" height="9.60" fill="#000" opacity="0.16"/>
</g>
<g filter="url(#fn1)">
<rect x="183" y="169.5" width="53" height="146.0" fill="url(#bg1)"/>
<linearGradient id="va1_183" x1="0" y1="0" x2="0" y2="1"><stop offset="0" stop-color="#fff" stop-opacity="0.094"/><stop offset="0.7" stop-color="#fff" stop-opacity="0.094"/><stop offset="1" stop-color="#fff" stop-opacity="0"/></linearGradient>
<rect x="183" y="169.50" width="2.50" height="91.25" fill="url(#va1_183)"/>
<linearGradient id="va1_232" x1="0" y1="0" x2="0" y2="1"><stop offset="0" stop-color="#fff" stop-opacity="0.094"/><stop offset="0.7" stop-color="#fff" stop-opacity="0.094"/><stop offset="1" stop-color="#fff" stop-opacity="0"/></linearGradient>
<rect x="232" y="169.50" width="4.00" height="109.50" fill="url(#va1_232)"/>
<rect x="183" y="306.00" width="53.00" height="9.5" fill="#6e6e6e"/>
<rect x="183" y="311.88" width="53.00" height="3.6" fill="#636363"/>
</g>
<clipPath id="bc1"><rect x="183" y="300.40" width="53" height="5.60"/></clipPath>
<g filter="url(#fs1)" clip-path="url(#bc1)">
<linearGradient id="bd1_0" x1="0" y1="0" x2="0" y2="1"><stop offset="0" stop-color="#757575"/><stop offset="0.196" stop-color="#949494"/><stop offset="0.357" stop-color="#adadad"/><stop offset="0.643" stop-color="#adadad"/><stop offset="0.804" stop-color="#949494"/><stop offset="1" stop-color="#707070"/></linearGradient>
<rect x="183" y="300.40" width="53" height="5.60" fill="url(#bd1_0)"/>
<radialGradient id="rb1"><stop offset="0" stop-color="#fff" stop-opacity="1"/><stop offset="0.55" stop-color="#fff" stop-opacity="0.75"/><stop offset="1" stop-color="#fff" stop-opacity="0"/></radialGradient>
<ellipse cx="204.5" cy="303.2" rx="8" ry="2.2" fill="url(#rb1)" opacity="0.42"/>
</g>
<g filter="url(#fn2)">
<rect x="183" y="405.5" width="53" height="155.0" fill="url(#bg2)"/>
<rect x="183" y="424.38" width="53.00" height="1.0" fill="#fff" fill-opacity="0.234"/>
<rect x="183" y="444.91" width="53.00" height="1.0" fill="#fff" fill-opacity="0.234"/>
<rect x="183" y="470.10" width="53.00" height="1.0" fill="#fff" fill-opacity="0.234"/>
<rect x="183" y="494.90" width="53.00" height="1.0" fill="#fff" fill-opacity="0.234"/>
<rect x="183" y="521.25" width="53.00" height="1.0" fill="#fff" fill-opacity="0.234"/>
<linearGradient id="va2_183" x1="0" y1="0" x2="0" y2="1"><stop offset="0" stop-color="#fff" stop-opacity="0.109"/><stop offset="0.7" stop-color="#fff" stop-opacity="0.109"/><stop offset="1" stop-color="#fff" stop-opacity="0"/></linearGradient>
<rect x="183" y="405.50" width="2.50" height="77.50" fill="url(#va2_183)"/>
<rect x="195" y="535.20" width="16.00" height="1.0" fill="#fff" fill-opacity="0.625"/>
<rect x="197" y="483.27" width="18.00" height="1.0" fill="#fff" fill-opacity="0.156"/>
<rect x="183" y="551.35" width="34.00" height="9" fill="#999999"/>
<rect x="217" y="551.35" width="19.00" height="9" fill="#707070"/>
<rect x="183" y="557.84" width="53.00" height="3" fill="#6e6e6e"/>
</g>
<clipPath id="bc2"><rect x="183" y="543.30" width="53" height="9.20"/></clipPath>
<g filter="url(#fs2)" clip-path="url(#bc2)">
<linearGradient id="bd2_0" x1="0" y1="0" x2="0" y2="1"><stop offset="0" stop-color="#878787"/><stop offset="0.215" stop-color="#adadad"/><stop offset="0.391" stop-color="#d6d6d6"/><stop offset="0.609" stop-color="#d6d6d6"/><stop offset="0.785" stop-color="#adadad"/><stop offset="1" stop-color="#9e9e9e"/></linearGradient>
<rect x="183" y="543.30" width="34" height="9.20" fill="url(#bd2_0)"/>
<linearGradient id="bd2_1" x1="0" y1="0" x2="0" y2="1"><stop offset="0" stop-color="#878787"/><stop offset="0.221" stop-color="#949494"/><stop offset="0.402" stop-color="#a7a7a7"/><stop offset="0.598" stop-color="#a7a7a7"/><stop offset="0.779" stop-color="#949494"/><stop offset="1" stop-color="#707070"/></linearGradient>
<rect x="217" y="543.30" width="14" height="9.20" fill="url(#bd2_1)"/>
<linearGradient id="bd2_2" x1="0" y1="0" x2="0" y2="1"><stop offset="0" stop-color="#878787"/><stop offset="0.221" stop-color="#8c8c8c"/><stop offset="0.402" stop-color="#949494"/><stop offset="0.598" stop-color="#949494"/><stop offset="0.779" stop-color="#8c8c8c"/><stop offset="1" stop-color="#707070"/></linearGradient>
<rect x="231" y="543.30" width="5" height="9.20" fill="url(#bd2_2)"/>
<radialGradient id="rb2"><stop offset="0" stop-color="#fff" stop-opacity="1"/><stop offset="0.55" stop-color="#fff" stop-opacity="0.75"/><stop offset="1" stop-color="#fff" stop-opacity="0"/></radialGradient>
<ellipse cx="198" cy="547.9" rx="9" ry="1.4" fill="url(#rb2)" opacity="0.22"/>
<rect x="209.5" y="543.30" width="5" height="9.20" fill="#000" opacity="0.14"/>
</g>
<g filter="url(#fn3)">
<rect x="183" y="560.5" width="53" height="155.0" fill="url(#bg3)"/>
<linearGradient id="va3_225" x1="0" y1="0" x2="0" y2="1"><stop offset="0" stop-color="#fff" stop-opacity="0.078"/><stop offset="0.7" stop-color="#fff" stop-opacity="0.078"/><stop offset="1" stop-color="#fff" stop-opacity="0"/></linearGradient>
<rect x="225" y="560.50" width="11.00" height="108.50" fill="url(#va3_225)"/>
<rect x="183" y="705.46" width="53.00" height="10" fill="#6b6b6b"/>
<rect x="183" y="709.40" width="53.00" height="6" fill="#636363"/>
<rect x="195" y="690.20" width="16.00" height="1.0" fill="#fff" fill-opacity="0.375"/>
</g>
<clipPath id="bc3"><rect x="183" y="699.80" width="53" height="5.80"/></clipPath>
<g filter="url(#fs3)" clip-path="url(#bc3)">
<linearGradient id="bd3_0" x1="0" y1="0" x2="0" y2="1"><stop offset="0" stop-color="#707070"/><stop offset="0.199" stop-color="#8c8c8c"/><stop offset="0.362" stop-color="#aaaaaa"/><stop offset="0.638" stop-color="#aaaaaa"/><stop offset="0.801" stop-color="#8c8c8c"/><stop offset="1" stop-color="#787878"/></linearGradient>
<rect x="183" y="699.80" width="29" height="5.80" fill="url(#bd3_0)"/>
<linearGradient id="bd3_1" x1="0" y1="0" x2="0" y2="1"><stop offset="0" stop-color="#707070"/><stop offset="0.199" stop-color="#787878"/><stop offset="0.362" stop-color="#858585"/><stop offset="0.638" stop-color="#858585"/><stop offset="0.801" stop-color="#787878"/><stop offset="1" stop-color="#737373"/></linearGradient>
<rect x="212" y="699.80" width="6" height="5.80" fill="url(#bd3_1)"/>
<linearGradient id="bd3_2" x1="0" y1="0" x2="0" y2="1"><stop offset="0" stop-color="#707070"/><stop offset="0.199" stop-color="#808080"/><stop offset="0.362" stop-color="#999999"/><stop offset="0.638" stop-color="#999999"/><stop offset="0.801" stop-color="#808080"/><stop offset="1" stop-color="#737373"/></linearGradient>
<rect x="218" y="699.80" width="11" height="5.80" fill="url(#bd3_2)"/>
<linearGradient id="bd3_3" x1="0" y1="0" x2="0" y2="1"><stop offset="0" stop-color="#707070"/><stop offset="0.199" stop-color="#737373"/><stop offset="0.362" stop-color="#7a7a7a"/><stop offset="0.638" stop-color="#7a7a7a"/><stop offset="0.801" stop-color="#737373"/><stop offset="1" stop-color="#6e6e6e"/></linearGradient>
<rect x="229" y="699.80" width="7" height="5.80" fill="url(#bd3_3)"/>
<radialGradient id="rb3"><stop offset="0" stop-color="#fff" stop-opacity="1"/><stop offset="0.55" stop-color="#fff" stop-opacity="0.75"/><stop offset="1" stop-color="#fff" stop-opacity="0"/></radialGradient>
<ellipse cx="201.5" cy="702.7" rx="7" ry="1.7" fill="url(#rb3)" opacity="0.3"/>
</g>
<g filter="url(#fn4)">
<rect x="187" y="805.5" width="53" height="143.0" fill="url(#bg4)"/>
<rect x="187" y="818.59" width="53.00" height="1.0" fill="#fff" fill-opacity="0.188"/>
<rect x="187" y="865.06" width="53.00" height="1.0" fill="#fff" fill-opacity="0.188"/>
<rect x="187" y="890.09" width="53.00" height="1.0" fill="#fff" fill-opacity="0.188"/>
<rect x="187" y="911.89" width="53.00" height="1.0" fill="#fff" fill-opacity="0.188"/>
<linearGradient id="va4_187" x1="0" y1="0" x2="0" y2="1"><stop offset="0" stop-color="#fff" stop-opacity="0.109"/><stop offset="0.7" stop-color="#fff" stop-opacity="0.109"/><stop offset="1" stop-color="#fff" stop-opacity="0"/></linearGradient>
<rect x="187" y="805.50" width="2.50" height="85.80" fill="url(#va4_187)"/>
<rect x="187" y="924.40" width="53.00" height="1.0" fill="#fff" fill-opacity="0.281"/>
<rect x="187" y="939.96" width="25.00" height="8.5" fill="#808080"/>
<rect x="212" y="939.96" width="28.00" height="8.5" fill="#919191"/>
</g>
<clipPath id="bc4"><rect x="187" y="933.60" width="53" height="6.40"/></clipPath>
<g filter="url(#fs4)" clip-path="url(#bc4)">
<linearGradient id="bd4_0" x1="0" y1="0" x2="0" y2="1"><stop offset="0" stop-color="#878787"/><stop offset="0.228" stop-color="#8f8f8f"/><stop offset="0.414" stop-color="#ababab"/><stop offset="0.586" stop-color="#ababab"/><stop offset="0.772" stop-color="#8f8f8f"/><stop offset="1" stop-color="#7d7d7d"/></linearGradient>
<rect x="187" y="933.60" width="25" height="6.40" fill="url(#bd4_0)"/>
<linearGradient id="bd4_1" x1="0" y1="0" x2="0" y2="1"><stop offset="0" stop-color="#878787"/><stop offset="0.206" stop-color="#a8a8a8"/><stop offset="0.375" stop-color="#d6d6d6"/><stop offset="0.625" stop-color="#d6d6d6"/><stop offset="0.794" stop-color="#a8a8a8"/><stop offset="1" stop-color="#8c8c8c"/></linearGradient>
<rect x="212" y="933.60" width="28" height="6.40" fill="url(#bd4_1)"/>
<radialGradient id="rb4"><stop offset="0" stop-color="#fff" stop-opacity="1"/><stop offset="0.55" stop-color="#fff" stop-opacity="0.75"/><stop offset="1" stop-color="#fff" stop-opacity="0"/></radialGradient>
<ellipse cx="218" cy="936.8" rx="6" ry="1.4" fill="url(#rb4)" opacity="0.4"/>
</g>
<g filter="url(#fn5)">
<rect x="187" y="948.5" width="53" height="143.0" fill="url(#bg5)"/>
<linearGradient id="va5_187" x1="0" y1="0" x2="0" y2="1"><stop offset="0" stop-color="#fff" stop-opacity="0.094"/><stop offset="0.7" stop-color="#fff" stop-opacity="0.094"/><stop offset="1" stop-color="#fff" stop-opacity="0"/></linearGradient>
<rect x="187" y="948.50" width="3.00" height="89.38" fill="url(#va5_187)"/>
<rect x="187" y="1082.96" width="53.00" height="8.5" fill="#666666"/>
</g>
<clipPath id="bc5"><rect x="187" y="1077.90" width="53" height="4.20"/></clipPath>
<g filter="url(#fs5)" clip-path="url(#bc5)">
<linearGradient id="bd5_0" x1="0" y1="0" x2="0" y2="1"><stop offset="0" stop-color="#757575"/><stop offset="0.196" stop-color="#808080"/><stop offset="0.357" stop-color="#8f8f8f"/><stop offset="0.643" stop-color="#8f8f8f"/><stop offset="0.804" stop-color="#808080"/><stop offset="1" stop-color="#666666"/></linearGradient>
<rect x="187" y="1077.90" width="4" height="4.20" fill="url(#bd5_0)"/>
<linearGradient id="bd5_1" x1="0" y1="0" x2="0" y2="1"><stop offset="0" stop-color="#757575"/><stop offset="0.196" stop-color="#8f8f8f"/><stop offset="0.357" stop-color="#acacac"/><stop offset="0.643" stop-color="#acacac"/><stop offset="0.804" stop-color="#8f8f8f"/><stop offset="1" stop-color="#666666"/></linearGradient>
<rect x="191" y="1077.90" width="49" height="4.20" fill="url(#bd5_1)"/>
</g>
<clipPath id="cl0"><rect x="182.4" y="23.5" width="54.4" height="146.0"/></clipPath>
<g clip-path="url(#cl0)" fill="none" stroke="#000" stroke-width="3" shape-rendering="crispEdges">
<path d="M183.3 134.8 L187.3 121.7 L190.0 108.2 L192.7 93.6 L194.0 81.9 L195.3 68.4 L196.7 54.9 L197.6 41.8 L198.4 28.2 L198.8 23.5" stroke-dasharray="6.4 2.8 1.0 2.8" stroke-dashoffset="2.2"/>
<path d="M215.0 23.5 L215.3 27.2 L216.0 41.8 L217.3 58.9 L219.0 72.4 L220.7 85.6 L222.0 99.1 L223.7 109.6 L226.0 121.7 L228.7 132.3 L232.7 142.9 L235.8 148.0" stroke-dasharray="6.4 2.8 1.0 2.8" stroke-dashoffset="5.8"/>
<path d="M229.5 23.5 L230.0 32.3 L231.3 46.9 L232.7 58.9 L234.4 72.4 L236.0 81.9" stroke-dasharray="6.5 6.5" stroke-dashoffset="5.4"/>
<path d="M183.2 39.9 L184.6 23.5" stroke-dasharray="6.5 6.5" stroke-dashoffset="6"/>
</g>
<clipPath id="cl1"><rect x="182.4" y="169.5" width="54.4" height="146.0"/></clipPath>
<g clip-path="url(#cl1)" fill="none" stroke="#000" stroke-width="3" shape-rendering="crispEdges">
<path d="M183.3 280.8 L187.3 267.7 L190.0 254.2 L192.7 239.6 L194.0 227.9 L195.3 214.4 L196.7 200.9 L197.6 187.8 L198.4 174.2 L198.8 169.5" stroke-dasharray="6.4 2.8 1.0 2.8" stroke-dashoffset="5.4"/>
<path d="M215.0 169.5 L215.3 173.2 L216.0 187.8 L217.3 204.9 L219.0 218.4 L220.7 231.6 L222.0 245.1 L223.7 255.6 L226.0 267.7 L228.7 278.3 L232.7 288.9 L235.8 294.0" stroke-dasharray="6.4 2.8 1.0 2.8" stroke-dashoffset="9.2"/>
<path d="M229.5 169.5 L230.0 178.3 L231.3 192.9 L232.7 204.9 L234.4 218.4 L236.0 227.9" stroke-dasharray="6.5 6.5" stroke-dashoffset="11.2"/>
<path d="M183.2 185.9 L184.6 169.5" stroke-dasharray="6.5 6.5" stroke-dashoffset="11.8"/>
</g>
<clipPath id="cl2"><rect x="182.4" y="405.5" width="54.4" height="155.0"/></clipPath>
<g clip-path="url(#cl2)" fill="none" stroke="#000" stroke-width="3" shape-rendering="crispEdges">
<path d="M183.1 526.0 L186.5 514.4 L189.3 502.0 L191.3 489.6 L192.7 478.4 L194.1 465.9 L195.4 452.4 L196.4 440.0 L197.5 426.8 L198.2 413.6 L198.6 405.5" stroke-dasharray="6.4 2.8 1.0 2.8" stroke-dashoffset="7"/>
<path d="M216.5 405.5 L217.0 424.9 L218.1 438.4 L219.2 452.4 L220.6 464.8 L221.6 477.2 L223.0 489.6 L224.7 502.0 L227.1 514.4 L229.8 523.7 L233.3 532.2 L236.3 536.5" stroke-dasharray="6.4 2.8 1.0 2.8" stroke-dashoffset="9"/>
<path d="M229.1 405.5 L229.8 412.5 L231.2 425.3 L232.6 438.4 L234.0 450.8 L235.7 463.2 L236.4 467.5" stroke-dasharray="6.5 6.5" stroke-dashoffset="9"/>
<path d="M183.2 426.8 L185.4 405.5" stroke-dasharray="6.5 6.5" stroke-dashoffset="2"/>
</g>
<clipPath id="cl3"><rect x="182.4" y="560.5" width="54.4" height="155.0"/></clipPath>
<g clip-path="url(#cl3)" fill="none" stroke="#000" stroke-width="3" shape-rendering="crispEdges">
<path d="M183.1 681.0 L186.5 669.4 L189.3 657.0 L191.3 644.6 L192.7 633.4 L194.1 621.0 L195.4 607.4 L196.4 595.0 L197.5 581.8 L198.2 568.6 L198.6 560.5" stroke-dasharray="6.4 2.8 1.0 2.8" stroke-dashoffset="12.9"/>
<path d="M216.5 560.5 L217.0 579.9 L218.1 593.4 L219.2 607.4 L220.6 619.8 L221.6 632.2 L223.0 644.6 L224.7 657.0 L227.1 669.4 L229.8 678.7 L233.3 687.2 L236.3 691.5" stroke-dasharray="6.4 2.8 1.0 2.8" stroke-dashoffset="12"/>
<path d="M229.1 560.5 L229.8 567.5 L231.2 580.3 L232.6 593.4 L234.0 605.8 L235.7 618.2 L236.4 622.5" stroke-dasharray="6.5 6.5" stroke-dashoffset="7"/>
<path d="M183.2 581.8 L185.4 560.5" stroke-dasharray="6.5 6.5" stroke-dashoffset="3.4"/>
</g>
<clipPath id="cl4"><rect x="186.4" y="805.5" width="54.4" height="143.0"/></clipPath>
<g clip-path="url(#cl4)" fill="none" stroke="#000" stroke-width="3" shape-rendering="crispEdges">
<path d="M187.2 917.0 L188.7 914.9 L192.0 903.5 L194.5 891.7 L196.5 879.5 L198.2 868.4 L199.5 855.5 L200.7 842.7 L202.0 829.8 L203.3 815.5 L204.2 805.5" stroke-dasharray="6.4 2.8 1.0 2.8" stroke-dashoffset="4.6"/>
<path d="M220.3 805.5 L221.3 823.4 L222.3 836.2 L223.4 849.1 L224.7 862.0 L226.2 873.8 L227.8 886.7 L230.1 899.5 L232.7 909.9 L235.9 919.5 L238.5 925.3 L240.2 928.1" stroke-dasharray="6.4 2.8 1.0 2.8" stroke-dashoffset="11.6"/>
<path d="M234.1 805.5 L235.2 822.7 L236.9 835.5 L238.5 847.7 L240.6 859.8" stroke-dasharray="6.5 6.5" stroke-dashoffset="12"/>
<path d="M187.2 830.5 L189.3 805.5" stroke-dasharray="6.5 6.5" stroke-dashoffset="2.2"/>
</g>
<clipPath id="cl5"><rect x="186.4" y="948.5" width="54.4" height="143.0"/></clipPath>
<g clip-path="url(#cl5)" fill="none" stroke="#000" stroke-width="3" shape-rendering="crispEdges">
<path d="M187.2 1060.0 L188.7 1057.9 L192.0 1046.5 L194.5 1034.7 L196.5 1022.5 L198.2 1011.4 L199.5 998.5 L200.7 985.7 L202.0 972.8 L203.3 958.5 L204.2 948.5" stroke-dasharray="6.4 2.8 1.0 2.8" stroke-dashoffset="5.8"/>
<path d="M220.3 948.5 L221.3 966.4 L222.3 979.2 L223.4 992.1 L224.7 1005.0 L226.2 1016.8 L227.8 1029.7 L230.1 1042.5 L232.7 1052.9 L235.9 1062.5 L238.5 1068.3 L240.2 1071.1" stroke-dasharray="6.4 2.8 1.0 2.8" stroke-dashoffset="10.2"/>
<path d="M234.1 948.5 L235.2 965.7 L236.9 978.5 L238.5 990.7 L240.6 1002.8" stroke-dasharray="6.5 6.5" stroke-dashoffset="4.8"/>
<path d="M187.2 973.5 L189.3 948.5" stroke-dasharray="6.5 6.5" stroke-dashoffset="10.6"/>
</g>
<g stroke="#000" stroke-width="1" fill="none" shape-rendering="crispEdges">
<rect x="96.5" y="23.5" width="574.0" height="146.0"/>
<path d="M120.5 23.5v1.5M120.5 169.5v-1.5M144.5 23.5v1.5M144.5 169.5v-1.5M168.5 23.5v1.5M168.5 169.5v-1.5M192.5 23.5v1.5M192.5 169.5v-1.5M216.5 23.5v1.5M216.5 169.5v-1.5M240.5 23.5v1.5M240.5 169.5v-1.5M263.5 23.5v1.5M263.5 169.5v-1.5M287.5 23.5v3.5M287.5 169.5v-3.5M311.5 23.5v1.5M311.5 169.5v-1.5M335.5 23.5v1.5M335.5 169.5v-1.5M359.5 23.5v1.5M359.5 169.5v-1.5M383.5 23.5v1.5M383.5 169.5v-1.5M407.5 23.5v1.5M407.5 169.5v-1.5M431.5 23.5v1.5M431.5 169.5v-1.5M455.5 23.5v1.5M455.5 169.5v-1.5M479.5 23.5v3.5M479.5 169.5v-3.5M503.5 23.5v1.5M503.5 169.5v-1.5M526.5 23.5v1.5M526.5 169.5v-1.5M550.5 23.5v1.5M550.5 169.5v-1.5M574.5 23.5v1.5M574.5 169.5v-1.5M598.5 23.5v1.5M598.5 169.5v-1.5M622.5 23.5v1.5M622.5 169.5v-1.5M646.5 23.5v1.5M646.5 169.5v-1.5"/>
<path d="M96.5 165.5h6.5M670.5 165.5h-6.5M96.5 162.5h6.5M670.5 162.5h-6.5M96.5 158.5h6.5M670.5 158.5h-6.5M96.5 154.5h6.5M670.5 154.5h-6.5M96.5 151.5h6.5M670.5 151.5h-6.5M96.5 147.5h6.5M670.5 147.5h-6.5M96.5 143.5h6.5M670.5 143.5h-6.5M96.5 140.5h6.5M670.5 140.5h-6.5M96.5 136.5h6.5M670.5 136.5h-6.5M96.5 132.5h11.5M670.5 132.5h-11.5M96.5 129.5h6.5M670.5 129.5h-6.5M96.5 125.5h6.5M670.5 125.5h-6.5M96.5 122.5h6.5M670.5 122.5h-6.5M96.5 118.5h6.5M670.5 118.5h-6.5M96.5 114.5h6.5M670.5 114.5h-6.5M96.5 111.5h6.5M670.5 111.5h-6.5M96.5 107.5h6.5M670.5 107.5h-6.5M96.5 103.5h6.5M670.5 103.5h-6.5M96.5 100.5h6.5M670.5 100.5h-6.5M96.5 96.5h11.5M670.5 96.5h-11.5M96.5 92.5h6.5M670.5 92.5h-6.5M96.5 89.5h6.5M670.5 89.5h-6.5M96.5 85.5h6.5M670.5 85.5h-6.5M96.5 81.5h6.5M670.5 81.5h-6.5M96.5 78.5h6.5M670.5 78.5h-6.5M96.5 74.5h6.5M670.5 74.5h-6.5M96.5 70.5h6.5M670.5 70.5h-6.5M96.5 67.5h6.5M670.5 67.5h-6.5M96.5 63.5h6.5M670.5 63.5h-6.5M96.5 60.5h11.5M670.5 60.5h-11.5M96.5 56.5h6.5M670.5 56.5h-6.5M96.5 52.5h6.5M670.5 52.5h-6.5M96.5 49.5h6.5M670.5 49.5h-6.5M96.5 45.5h6.5M670.5 45.5h-6.5M96.5 41.5h6.5M670.5 41.5h-6.5M96.5 38.5h6.5M670.5 38.5h-6.5M96.5 34.5h6.5M670.5 34.5h-6.5M96.5 30.5h6.5M670.5 30.5h-6.5M96.5 27.5h6.5M670.5 27.5h-6.5"/>
<rect x="96.5" y="169.5" width="574.0" height="146.0"/>
<path d="M120.5 169.5v1.5M120.5 315.5v-1.5M144.5 169.5v1.5M144.5 315.5v-1.5M168.5 169.5v1.5M168.5 315.5v-1.5M192.5 169.5v1.5M192.5 315.5v-1.5M216.5 169.5v1.5M216.5 315.5v-1.5M240.5 169.5v1.5M240.5 315.5v-1.5M263.5 169.5v1.5M263.5 315.5v-1.5M287.5 169.5v3.5M287.5 315.5v-3.5M311.5 169.5v1.5M311.5 315.5v-1.5M335.5 169.5v1.5M335.5 315.5v-1.5M359.5 169.5v1.5M359.5 315.5v-1.5M383.5 169.5v1.5M383.5 315.5v-1.5M407.5 169.5v1.5M407.5 315.5v-1.5M431.5 169.5v1.5M431.5 315.5v-1.5M455.5 169.5v1.5M455.5 315.5v-1.5M479.5 169.5v3.5M479.5 315.5v-3.5M503.5 169.5v1.5M503.5 315.5v-1.5M526.5 169.5v1.5M526.5 315.5v-1.5M550.5 169.5v1.5M550.5 315.5v-1.5M574.5 169.5v1.5M574.5 315.5v-1.5M598.5 169.5v1.5M598.5 315.5v-1.5M622.5 169.5v1.5M622.5 315.5v-1.5M646.5 169.5v1.5M646.5 315.5v-1.5"/>
<path d="M96.5 311.5h6.5M670.5 311.5h-6.5M96.5 308.5h6.5M670.5 308.5h-6.5M96.5 304.5h6.5M670.5 304.5h-6.5M96.5 300.5h6.5M670.5 300.5h-6.5M96.5 297.5h6.5M670.5 297.5h-6.5M96.5 293.5h6.5M670.5 293.5h-6.5M96.5 289.5h6.5M670.5 289.5h-6.5M96.5 286.5h6.5M670.5 286.5h-6.5M96.5 282.5h6.5M670.5 282.5h-6.5M96.5 278.5h11.5M670.5 278.5h-11.5M96.5 275.5h6.5M670.5 275.5h-6.5M96.5 271.5h6.5M670.5 271.5h-6.5M96.5 268.5h6.5M670.5 268.5h-6.5M96.5 264.5h6.5M670.5 264.5h-6.5M96.5 260.5h6.5M670.5 260.5h-6.5M96.5 257.5h6.5M670.5 257.5h-6.5M96.5 253.5h6.5M670.5 253.5h-6.5M96.5 249.5h6.5M670.5 249.5h-6.5M96.5 246.5h6.5M670.5 246.5h-6.5M96.5 242.5h11.5M670.5 242.5h-11.5M96.5 238.5h6.5M670.5 238.5h-6.5M96.5 235.5h6.5M670.5 235.5h-6.5M96.5 231.5h6.5M670.5 231.5h-6.5M96.5 227.5h6.5M670.5 227.5h-6.5M96.5 224.5h6.5M670.5 224.5h-6.5M96.5 220.5h6.5M670.5 220.5h-6.5M96.5 216.5h6.5M670.5 216.5h-6.5M96.5 213.5h6.5M670.5 213.5h-6.5M96.5 209.5h6.5M670.5 209.5h-6.5M96.5 206.5h11.5M670.5 206.5h-11.5M96.5 202.5h6.5M670.5 202.5h-6.5M96.5 198.5h6.5M670.5 198.5h-6.5M96.5 195.5h6.5M670.5 195.5h-6.5M96.5 191.5h6.5M670.5 191.5h-6.5M96.5 187.5h6.5M670.5 187.5h-6.5M96.5 184.5h6.5M670.5 184.5h-6.5M96.5 180.5h6.5M670.5 180.5h-6.5M96.5 176.5h6.5M670.5 176.5h-6.5M96.5 173.5h6.5M670.5 173.5h-6.5"/>
<rect x="96.5" y="405.5" width="574.0" height="155.0"/>
<path d="M120.5 405.5v1.5M120.5 560.5v-1.5M144.5 405.5v1.5M144.5 560.5v-1.5M168.5 405.5v1.5M168.5 560.5v-1.5M192.5 405.5v1.5M192.5 560.5v-1.5M216.5 405.5v1.5M216.5 560.5v-1.5M240.5 405.5v1.5M240.5 560.5v-1.5M263.5 405.5v1.5M263.5 560.5v-1.5M287.5 405.5v3.5M287.5 560.5v-3.5M311.5 405.5v1.5M311.5 560.5v-1.5M335.5 405.5v1.5M335.5 560.5v-1.5M359.5 405.5v1.5M359.5 560.5v-1.5M383.5 405.5v1.5M383.5 560.5v-1.5M407.5 405.5v1.5M407.5 560.5v-1.5M431.5 405.5v1.5M431.5 560.5v-1.5M455.5 405.5v1.5M455.5 560.5v-1.5M479.5 405.5v3.5M479.5 560.5v-3.5M503.5 405.5v1.5M503.5 560.5v-1.5M526.5 405.5v1.5M526.5 560.5v-1.5M550.5 405.5v1.5M550.5 560.5v-1.5M574.5 405.5v1.5M574.5 560.5v-1.5M598.5 405.5v1.5M598.5 560.5v-1.5M622.5 405.5v1.5M622.5 560.5v-1.5M646.5 405.5v1.5M646.5 560.5v-1.5"/>
<path d="M96.5 556.5h6.5M670.5 556.5h-6.5M96.5 552.5h6.5M670.5 552.5h-6.5M96.5 548.5h6.5M670.5 548.5h-6.5M96.5 544.5h6.5M670.5 544.5h-6.5M96.5 541.5h6.5M670.5 541.5h-6.5M96.5 537.5h6.5M670.5 537.5h-6.5M96.5 533.5h6.5M670.5 533.5h-6.5M96.5 529.5h6.5M670.5 529.5h-6.5M96.5 525.5h6.5M670.5 525.5h-6.5M96.5 521.5h11.5M670.5 521.5h-11.5M96.5 517.5h6.5M670.5 517.5h-6.5M96.5 514.5h6.5M670.5 514.5h-6.5M96.5 510.5h6.5M670.5 510.5h-6.5M96.5 506.5h6.5M670.5 506.5h-6.5M96.5 502.5h6.5M670.5 502.5h-6.5M96.5 498.5h6.5M670.5 498.5h-6.5M96.5 494.5h6.5M670.5 494.5h-6.5M96.5 490.5h6.5M670.5 490.5h-6.5M96.5 486.5h6.5M670.5 486.5h-6.5M96.5 482.5h11.5M670.5 482.5h-11.5M96.5 479.5h6.5M670.5 479.5h-6.5M96.5 475.5h6.5M670.5 475.5h-6.5M96.5 471.5h6.5M670.5 471.5h-6.5M96.5 467.5h6.5M670.5 467.5h-6.5M96.5 463.5h6.5M670.5 463.5h-6.5M96.5 459.5h6.5M670.5 459.5h-6.5M96.5 455.5h6.5M670.5 455.5h-6.5M96.5 452.5h6.5M670.5 452.5h-6.5M96.5 448.5h6.5M670.5 448.5h-6.5M96.5 444.5h11.5M670.5 444.5h-11.5M96.5 440.5h6.5M670.5 440.5h-6.5M96.5 436.5h6.5M670.5 436.5h-6.5M96.5 432.5h6.5M670.5 432.5h-6.5M96.5 428.5h6.5M670.5 428.5h-6.5M96.5 424.5h6.5M670.5 424.5h-6.5M96.5 420.5h6.5M670.5 420.5h-6.5M96.5 417.5h6.5M670.5 417.5h-6.5M96.5 413.5h6.5M670.5 413.5h-6.5M96.5 409.5h6.5M670.5 409.5h-6.5"/>
<rect x="96.5" y="560.5" width="574.0" height="155.0"/>
<path d="M120.5 560.5v1.5M120.5 715.5v-1.5M144.5 560.5v1.5M144.5 715.5v-1.5M168.5 560.5v1.5M168.5 715.5v-1.5M192.5 560.5v1.5M192.5 715.5v-1.5M216.5 560.5v1.5M216.5 715.5v-1.5M240.5 560.5v1.5M240.5 715.5v-1.5M263.5 560.5v1.5M263.5 715.5v-1.5M287.5 560.5v3.5M287.5 715.5v-3.5M311.5 560.5v1.5M311.5 715.5v-1.5M335.5 560.5v1.5M335.5 715.5v-1.5M359.5 560.5v1.5M359.5 715.5v-1.5M383.5 560.5v1.5M383.5 715.5v-1.5M407.5 560.5v1.5M407.5 715.5v-1.5M431.5 560.5v1.5M431.5 715.5v-1.5M455.5 560.5v1.5M455.5 715.5v-1.5M479.5 560.5v3.5M479.5 715.5v-3.5M503.5 560.5v1.5M503.5 715.5v-1.5M526.5 560.5v1.5M526.5 715.5v-1.5M550.5 560.5v1.5M550.5 715.5v-1.5M574.5 560.5v1.5M574.5 715.5v-1.5M598.5 560.5v1.5M598.5 715.5v-1.5M622.5 560.5v1.5M622.5 715.5v-1.5M646.5 560.5v1.5M646.5 715.5v-1.5"/>
<path d="M96.5 711.5h6.5M670.5 711.5h-6.5M96.5 707.5h6.5M670.5 707.5h-6.5M96.5 703.5h6.5M670.5 703.5h-6.5M96.5 700.5h6.5M670.5 700.5h-6.5M96.5 696.5h6.5M670.5 696.5h-6.5M96.5 692.5h6.5M670.5 692.5h-6.5M96.5 688.5h6.5M670.5 688.5h-6.5M96.5 684.5h6.5M670.5 684.5h-6.5M96.5 680.5h6.5M670.5 680.5h-6.5M96.5 676.5h11.5M670.5 676.5h-11.5M96.5 672.5h6.5M670.5 672.5h-6.5M96.5 668.5h6.5M670.5 668.5h-6.5M96.5 665.5h6.5M670.5 665.5h-6.5M96.5 661.5h6.5M670.5 661.5h-6.5M96.5 657.5h6.5M670.5 657.5h-6.5M96.5 653.5h6.5M670.5 653.5h-6.5M96.5 649.5h6.5M670.5 649.5h-6.5M96.5 645.5h6.5M670.5 645.5h-6.5M96.5 641.5h6.5M670.5 641.5h-6.5M96.5 638.5h11.5M670.5 638.5h-11.5M96.5 634.5h6.5M670.5 634.5h-6.5M96.5 630.5h6.5M670.5 630.5h-6.5M96.5 626.5h6.5M670.5 626.5h-6.5M96.5 622.5h6.5M670.5 622.5h-6.5M96.5 618.5h6.5M670.5 618.5h-6.5M96.5 614.5h6.5M670.5 614.5h-6.5M96.5 610.5h6.5M670.5 610.5h-6.5M96.5 606.5h6.5M670.5 606.5h-6.5M96.5 603.5h6.5M670.5 603.5h-6.5M96.5 599.5h11.5M670.5 599.5h-11.5M96.5 595.5h6.5M670.5 595.5h-6.5M96.5 591.5h6.5M670.5 591.5h-6.5M96.5 587.5h6.5M670.5 587.5h-6.5M96.5 583.5h6.5M670.5 583.5h-6.5M96.5 579.5h6.5M670.5 579.5h-6.5M96.5 576.5h6.5M670.5 576.5h-6.5M96.5 572.5h6.5M670.5 572.5h-6.5M96.5 568.5h6.5M670.5 568.5h-6.5M96.5 564.5h6.5M670.5 564.5h-6.5"/>
<rect x="96.5" y="805.5" width="574.0" height="143.0"/>
<path d="M120.5 805.5v1.5M120.5 948.5v-1.5M144.5 805.5v1.5M144.5 948.5v-1.5M168.5 805.5v1.5M168.5 948.5v-1.5M192.5 805.5v1.5M192.5 948.5v-1.5M216.5 805.5v1.5M216.5 948.5v-1.5M240.5 805.5v1.5M240.5 948.5v-1.5M263.5 805.5v1.5M263.5 948.5v-1.5M287.5 805.5v3.5M287.5 948.5v-3.5M311.5 805.5v1.5M311.5 948.5v-1.5M335.5 805.5v1.5M335.5 948.5v-1.5M359.5 805.5v1.5M359.5 948.5v-1.5M383.5 805.5v1.5M383.5 948.5v-1.5M407.5 805.5v1.5M407.5 948.5v-1.5M431.5 805.5v1.5M431.5 948.5v-1.5M455.5 805.5v1.5M455.5 948.5v-1.5M479.5 805.5v3.5M479.5 948.5v-3.5M503.5 805.5v1.5M503.5 948.5v-1.5M526.5 805.5v1.5M526.5 948.5v-1.5M550.5 805.5v1.5M550.5 948.5v-1.5M574.5 805.5v1.5M574.5 948.5v-1.5M598.5 805.5v1.5M598.5 948.5v-1.5M622.5 805.5v1.5M622.5 948.5v-1.5M646.5 805.5v1.5M646.5 948.5v-1.5"/>
<path d="M96.5 944.5h6.5M670.5 944.5h-6.5M96.5 941.5h6.5M670.5 941.5h-6.5M96.5 937.5h6.5M670.5 937.5h-6.5M96.5 934.5h6.5M670.5 934.5h-6.5M96.5 930.5h6.5M670.5 930.5h-6.5M96.5 927.5h6.5M670.5 927.5h-6.5M96.5 923.5h6.5M670.5 923.5h-6.5M96.5 919.5h6.5M670.5 919.5h-6.5M96.5 916.5h6.5M670.5 916.5h-6.5M96.5 912.5h11.5M670.5 912.5h-11.5M96.5 909.5h6.5M670.5 909.5h-6.5M96.5 905.5h6.5M670.5 905.5h-6.5M96.5 902.5h6.5M670.5 902.5h-6.5M96.5 898.5h6.5M670.5 898.5h-6.5M96.5 894.5h6.5M670.5 894.5h-6.5M96.5 891.5h6.5M670.5 891.5h-6.5M96.5 887.5h6.5M670.5 887.5h-6.5M96.5 884.5h6.5M670.5 884.5h-6.5M96.5 880.5h6.5M670.5 880.5h-6.5M96.5 876.5h11.5M670.5 876.5h-11.5M96.5 873.5h6.5M670.5 873.5h-6.5M96.5 869.5h6.5M670.5 869.5h-6.5M96.5 866.5h6.5M670.5 866.5h-6.5M96.5 862.5h6.5M670.5 862.5h-6.5M96.5 859.5h6.5M670.5 859.5h-6.5M96.5 855.5h6.5M670.5 855.5h-6.5M96.5 851.5h6.5M670.5 851.5h-6.5M96.5 848.5h6.5M670.5 848.5h-6.5M96.5 844.5h6.5M670.5 844.5h-6.5M96.5 841.5h11.5M670.5 841.5h-11.5M96.5 837.5h6.5M670.5 837.5h-6.5M96.5 834.5h6.5M670.5 834.5h-6.5M96.5 830.5h6.5M670.5 830.5h-6.5M96.5 826.5h6.5M670.5 826.5h-6.5M96.5 823.5h6.5M670.5 823.5h-6.5M96.5 819.5h6.5M670.5 819.5h-6.5M96.5 816.5h6.5M670.5 816.5h-6.5M96.5 812.5h6.5M670.5 812.5h-6.5M96.5 809.5h6.5M670.5 809.5h-6.5"/>
<rect x="96.5" y="948.5" width="574.0" height="143.0"/>
<path d="M120.5 948.5v1.5M120.5 1091.5v-1.5M144.5 948.5v1.5M144.5 1091.5v-1.5M168.5 948.5v1.5M168.5 1091.5v-1.5M192.5 948.5v1.5M192.5 1091.5v-1.5M216.5 948.5v1.5M216.5 1091.5v-1.5M240.5 948.5v1.5M240.5 1091.5v-1.5M263.5 948.5v1.5M263.5 1091.5v-1.5M287.5 948.5v3.5M287.5 1091.5v-3.5M311.5 948.5v1.5M311.5 1091.5v-1.5M335.5 948.5v1.5M335.5 1091.5v-1.5M359.5 948.5v1.5M359.5 1091.5v-1.5M383.5 948.5v1.5M383.5 1091.5v-1.5M407.5 948.5v1.5M407.5 1091.5v-1.5M431.5 948.5v1.5M431.5 1091.5v-1.5M455.5 948.5v1.5M455.5 1091.5v-1.5M479.5 948.5v3.5M479.5 1091.5v-3.5M503.5 948.5v1.5M503.5 1091.5v-1.5M526.5 948.5v1.5M526.5 1091.5v-1.5M550.5 948.5v1.5M550.5 1091.5v-1.5M574.5 948.5v1.5M574.5 1091.5v-1.5M598.5 948.5v1.5M598.5 1091.5v-1.5M622.5 948.5v1.5M622.5 1091.5v-1.5M646.5 948.5v1.5M646.5 1091.5v-1.5"/>
<path d="M96.5 1087.5h6.5M670.5 1087.5h-6.5M96.5 1084.5h6.5M670.5 1084.5h-6.5M96.5 1080.5h6.5M670.5 1080.5h-6.5M96.5 1077.5h6.5M670.5 1077.5h-6.5M96.5 1073.5h6.5M670.5 1073.5h-6.5M96.5 1070.5h6.5M670.5 1070.5h-6.5M96.5 1066.5h6.5M670.5 1066.5h-6.5M96.5 1062.5h6.5M670.5 1062.5h-6.5M96.5 1059.5h6.5M670.5 1059.5h-6.5M96.5 1055.5h11.5M670.5 1055.5h-11.5M96.5 1052.5h6.5M670.5 1052.5h-6.5M96.5 1048.5h6.5M670.5 1048.5h-6.5M96.5 1045.5h6.5M670.5 1045.5h-6.5M96.5 1041.5h6.5M670.5 1041.5h-6.5M96.5 1037.5h6.5M670.5 1037.5h-6.5M96.5 1034.5h6.5M670.5 1034.5h-6.5M96.5 1030.5h6.5M670.5 1030.5h-6.5M96.5 1027.5h6.5M670.5 1027.5h-6.5M96.5 1023.5h6.5M670.5 1023.5h-6.5M96.5 1020.5h11.5M670.5 1020.5h-11.5M96.5 1016.5h6.5M670.5 1016.5h-6.5M96.5 1012.5h6.5M670.5 1012.5h-6.5M96.5 1009.5h6.5M670.5 1009.5h-6.5M96.5 1005.5h6.5M670.5 1005.5h-6.5M96.5 1002.5h6.5M670.5 1002.5h-6.5M96.5 998.5h6.5M670.5 998.5h-6.5M96.5 994.5h6.5M670.5 994.5h-6.5M96.5 991.5h6.5M670.5 991.5h-6.5M96.5 987.5h6.5M670.5 987.5h-6.5M96.5 984.5h11.5M670.5 984.5h-11.5M96.5 980.5h6.5M670.5 980.5h-6.5M96.5 977.5h6.5M670.5 977.5h-6.5M96.5 973.5h6.5M670.5 973.5h-6.5M96.5 969.5h6.5M670.5 969.5h-6.5M96.5 966.5h6.5M670.5 966.5h-6.5M96.5 962.5h6.5M670.5 962.5h-6.5M96.5 959.5h6.5M670.5 959.5h-6.5M96.5 955.5h6.5M670.5 955.5h-6.5M96.5 952.5h6.5M670.5 952.5h-6.5"/>
</g>
<rect x="678.5" y="23.5" width="8.0" height="146.0" fill="url(#cb)" stroke="#000" stroke-width="1" shape-rendering="crispEdges"/>
<rect x="678.5" y="169.5" width="8.0" height="146.0" fill="url(#cb)" stroke="#000" stroke-width="1" shape-rendering="crispEdges"/>
<rect x="678.5" y="405.5" width="8.0" height="155.0" fill="url(#cb)" stroke="#000" stroke-width="1" shape-rendering="crispEdges"/>
<rect x="678.5" y="560.5" width="8.0" height="155.0" fill="url(#cb)" stroke="#000" stroke-width="1" shape-rendering="crispEdges"/>
<rect x="678.5" y="805.5" width="8.0" height="143.0" fill="url(#cb)" stroke="#000" stroke-width="1" shape-rendering="crispEdges"/>
<rect x="678.5" y="948.5" width="8.0" height="143.0" fill="url(#cb)" stroke="#000" stroke-width="1" shape-rendering="crispEdges"/>
<text transform="translate(178.20 16.20) translate(0.00 0) scale(0.9703 1.0)" font-size="15.99" >THEMIS(THA,THD,THE)</text>
<text transform="translate(360.00 16.20) translate(0.00 0) scale(0.8823 1.0)" font-size="15.99" >FGE</text>
<text transform="translate(398.40 16.20) translate(0.00 0) scale(1.0205 1.0)" font-size="15.99" >Wave</text>
<text transform="translate(447.70 16.20) translate(0.00 0) scale(1.0832 1.0)" font-size="15.99" >Survey</text>
<text transform="translate(509.90 16.20) translate(0.00 0) scale(1.1470 1.0)" font-size="15.99" >Plot</text>
<text transform="translate(550.40 16.20) translate(0.00 0) scale(1.1787 1.0)" font-size="15.99" >(Lin)</text>
<text transform="translate(92.60 169.10) translate(-8.60 0) scale(1.1821 1.0)" font-size="13.08" >0</text>
<text transform="translate(92.60 137.70) translate(-8.60 0) scale(1.1821 1.0)" font-size="13.08" >1</text>
<text transform="translate(92.60 101.20) translate(-8.60 0) scale(1.1821 1.0)" font-size="13.08" >2</text>
<text transform="translate(92.60 64.70) translate(-8.60 0) scale(1.1821 1.0)" font-size="13.08" >3</text>
<text transform="translate(92.60 32.10) translate(-8.60 0) scale(1.1821 1.0)" font-size="13.08" >4</text>
<text transform="translate(49.00 121.70) rotate(-90) translate(0.00 0) scale(0.8635 1.0)" font-size="14.24" >THA</text>
<text transform="translate(49.00 90.30) rotate(-90) translate(0.00 0) scale(0.8736 1.0)" font-size="14.24" >B</text>
<path d="M48.5 80.5v-8 M37.5 76.5h11" stroke="#000" stroke-width="1" fill="none" shape-rendering="crispEdges"/>
<text transform="translate(73.20 126.80) rotate(-90) translate(0.00 0) scale(0.9778 1.0)" font-size="14.24" >freq</text>
<text transform="translate(73.20 92.90) rotate(-90) translate(0.00 0) scale(0.9872 1.0)" font-size="14.24" >[Hz]</text>
<text transform="translate(690.60 53.91) translate(0.00 0) scale(1.0996 1.0)" font-size="13.08" >10</text>
<text transform="translate(707.20 48.71) translate(0.00 0) scale(1.1240 1.0)" font-size="8.43" >0</text>
<text transform="translate(690.60 90.41) translate(0.00 0) scale(1.0996 1.0)" font-size="13.08" >10</text>
<text transform="translate(707.20 85.21) translate(0.00 0) scale(1.2514 1.0)" font-size="8.43" >−2</text>
<text transform="translate(690.60 126.91) translate(0.00 0) scale(1.0996 1.0)" font-size="13.08" >10</text>
<text transform="translate(707.20 121.71) translate(0.00 0) scale(1.2514 1.0)" font-size="8.43" >−4</text>
<text transform="translate(690.60 163.41) translate(0.00 0) scale(1.0996 1.0)" font-size="13.08" >10</text>
<text transform="translate(707.20 158.22) translate(0.00 0) scale(1.2514 1.0)" font-size="8.43" >−6</text>
<text transform="translate(733.20 141.50) rotate(-90) translate(0.00 0) scale(0.9382 1.0)" font-size="14.24" >PSD [nT</text>
<text transform="translate(727.80 90.50) rotate(-90) translate(0.00 0) scale(1.0664 1.0)" font-size="8.43" >2</text>
<text transform="translate(733.20 84.50) rotate(-90) translate(0.00 0) scale(1.2241 1.0)" font-size="14.24" >/Hz]</text>
<text transform="translate(92.60 315.10) translate(-8.60 0) scale(1.1821 1.0)" font-size="13.08" >0</text>
<text transform="translate(92.60 283.70) translate(-8.60 0) scale(1.1821 1.0)" font-size="13.08" >1</text>
<text transform="translate(92.60 247.20) translate(-8.60 0) scale(1.1821 1.0)" font-size="13.08" >2</text>
<text transform="translate(92.60 210.70) translate(-8.60 0) scale(1.1821 1.0)" font-size="13.08" >3</text>
<text transform="translate(92.60 178.10) translate(-8.60 0) scale(1.1821 1.0)" font-size="13.08" >4</text>
<text transform="translate(49.00 265.90) rotate(-90) translate(0.00 0) scale(0.8635 1.0)" font-size="14.24" >THA</text>
<text transform="translate(49.00 234.50) rotate(-90) translate(0.00 0) scale(0.8736 1.0)" font-size="14.24" >B</text>
<path d="M37 224.0h11 M37 221.0h11" stroke="#000" stroke-width="1" fill="none" shape-rendering="crispEdges"/>
<text transform="translate(73.20 272.80) rotate(-90) translate(0.00 0) scale(0.9778 1.0)" font-size="14.24" >freq</text>
<text transform="translate(73.20 238.90) rotate(-90) translate(0.00 0) scale(0.9872 1.0)" font-size="14.24" >[Hz]</text>
<text transform="translate(690.60 199.91) translate(0.00 0) scale(1.0996 1.0)" font-size="13.08" >10</text>
<text transform="translate(707.20 194.72) translate(0.00 0) scale(1.1240 1.0)" font-size="8.43" >0</text>
<text transform="translate(690.60 236.41) translate(0.00 0) scale(1.0996 1.0)" font-size="13.08" >10</text>
<text transform="translate(707.20 231.22) translate(0.00 0) scale(1.2514 1.0)" font-size="8.43" >−2</text>
<text transform="translate(690.60 272.92) translate(0.00 0) scale(1.0996 1.0)" font-size="13.08" >10</text>
<text transform="translate(707.20 267.72) translate(0.00 0) scale(1.2514 1.0)" font-size="8.43" >−4</text>
<text transform="translate(690.60 309.42) translate(0.00 0) scale(1.0996 1.0)" font-size="13.08" >10</text>
<text transform="translate(707.20 304.22) translate(0.00 0) scale(1.2514 1.0)" font-size="8.43" >−6</text>
<text transform="translate(733.20 287.50) rotate(-90) translate(0.00 0) scale(0.9382 1.0)" font-size="14.24" >PSD [nT</text>
<text transform="translate(727.80 236.50) rotate(-90) translate(0.00 0) scale(1.0664 1.0)" font-size="8.43" >2</text>
<text transform="translate(733.20 230.50) rotate(-90) translate(0.00 0) scale(1.2241 1.0)" font-size="14.24" >/Hz]</text>
<text transform="translate(92.60 560.10) translate(-8.60 0) scale(1.1821 1.0)" font-size="13.08" >0</text>
<text transform="translate(92.60 526.45) translate(-8.60 0) scale(1.1821 1.0)" font-size="13.08" >1</text>
<text transform="translate(92.60 487.70) translate(-8.60 0) scale(1.1821 1.0)" font-size="13.08" >2</text>
<text transform="translate(92.60 448.95) translate(-8.60 0) scale(1.1821 1.0)" font-size="13.08" >3</text>
<text transform="translate(92.60 414.10) translate(-8.60 0) scale(1.1821 1.0)" font-size="13.08" >4</text>
<text transform="translate(49.00 508.20) rotate(-90) translate(0.00 0) scale(0.8403 1.0)" font-size="14.24" >THD</text>
<text transform="translate(49.00 476.80) rotate(-90) translate(0.00 0) scale(0.8736 1.0)" font-size="14.24" >B</text>
<path d="M48.5 467.0v-8 M37.5 463.0h11" stroke="#000" stroke-width="1" fill="none" shape-rendering="crispEdges"/>
<text transform="translate(73.20 513.30) rotate(-90) translate(0.00 0) scale(0.9778 1.0)" font-size="14.24" >freq</text>
<text transform="translate(73.20 479.40) rotate(-90) translate(0.00 0) scale(0.9872 1.0)" font-size="14.24" >[Hz]</text>
<text transform="translate(690.60 437.51) translate(0.00 0) scale(1.0996 1.0)" font-size="13.08" >10</text>
<text transform="translate(707.20 432.31) translate(0.00 0) scale(1.1240 1.0)" font-size="8.43" >0</text>
<text transform="translate(690.60 476.26) translate(0.00 0) scale(1.0996 1.0)" font-size="13.08" >10</text>
<text transform="translate(707.20 471.06) translate(0.00 0) scale(1.2514 1.0)" font-size="8.43" >−2</text>
<text transform="translate(690.60 515.01) translate(0.00 0) scale(1.0996 1.0)" font-size="13.08" >10</text>
<text transform="translate(707.20 509.81) translate(0.00 0) scale(1.2514 1.0)" font-size="8.43" >−4</text>
<text transform="translate(690.60 553.76) translate(0.00 0) scale(1.0996 1.0)" font-size="13.08" >10</text>
<text transform="translate(707.20 548.56) translate(0.00 0) scale(1.2514 1.0)" font-size="8.43" >−6</text>
<text transform="translate(733.20 528.00) rotate(-90) translate(0.00 0) scale(0.9382 1.0)" font-size="14.24" >PSD [nT</text>
<text transform="translate(727.80 477.00) rotate(-90) translate(0.00 0) scale(1.0664 1.0)" font-size="8.43" >2</text>
<text transform="translate(733.20 471.00) rotate(-90) translate(0.00 0) scale(1.2241 1.0)" font-size="14.24" >/Hz]</text>
<text transform="translate(92.60 715.10) translate(-8.60 0) scale(1.1821 1.0)" font-size="13.08" >0</text>
<text transform="translate(92.60 681.45) translate(-8.60 0) scale(1.1821 1.0)" font-size="13.08" >1</text>
<text transform="translate(92.60 642.70) translate(-8.60 0) scale(1.1821 1.0)" font-size="13.08" >2</text>
<text transform="translate(92.60 603.95) translate(-8.60 0) scale(1.1821 1.0)" font-size="13.08" >3</text>
<text transform="translate(92.60 569.10) translate(-8.60 0) scale(1.1821 1.0)" font-size="13.08" >4</text>
<text transform="translate(49.00 661.40) rotate(-90) translate(0.00 0) scale(0.8403 1.0)" font-size="14.24" >THD</text>
<text transform="translate(49.00 630.00) rotate(-90) translate(0.00 0) scale(0.8736 1.0)" font-size="14.24" >B</text>
<path d="M37 619.5h11 M37 616.5h11" stroke="#000" stroke-width="1" fill="none" shape-rendering="crispEdges"/>
<text transform="translate(73.20 668.30) rotate(-90) translate(0.00 0) scale(0.9778 1.0)" font-size="14.24" >freq</text>
<text transform="translate(73.20 634.40) rotate(-90) translate(0.00 0) scale(0.9872 1.0)" font-size="14.24" >[Hz]</text>
<text transform="translate(690.60 592.51) translate(0.00 0) scale(1.0996 1.0)" font-size="13.08" >10</text>
<text transform="translate(707.20 587.31) translate(0.00 0) scale(1.1240 1.0)" font-size="8.43" >0</text>
<text transform="translate(690.60 631.26) translate(0.00 0) scale(1.0996 1.0)" font-size="13.08" >10</text>
<text transform="translate(707.20 626.06) translate(0.00 0) scale(1.2514 1.0)" font-size="8.43" >−2</text>
<text transform="translate(690.60 670.01) translate(0.00 0) scale(1.0996 1.0)" font-size="13.08" >10</text>
<text transform="translate(707.20 664.81) translate(0.00 0) scale(1.2514 1.0)" font-size="8.43" >−4</text>
<text transform="translate(690.60 708.76) translate(0.00 0) scale(1.0996 1.0)" font-size="13.08" >10</text>
<text transform="translate(707.20 703.56) translate(0.00 0) scale(1.2514 1.0)" font-size="8.43" >−6</text>
<text transform="translate(733.20 683.00) rotate(-90) translate(0.00 0) scale(0.9382 1.0)" font-size="14.24" >PSD [nT</text>
<text transform="translate(727.80 632.00) rotate(-90) translate(0.00 0) scale(1.0664 1.0)" font-size="8.43" >2</text>
<text transform="translate(733.20 626.00) rotate(-90) translate(0.00 0) scale(1.2241 1.0)" font-size="14.24" >/Hz]</text>
<text transform="translate(92.60 948.10) translate(-8.60 0) scale(1.1821 1.0)" font-size="13.08" >0</text>
<text transform="translate(92.60 917.45) translate(-8.60 0) scale(1.1821 1.0)" font-size="13.08" >1</text>
<text transform="translate(92.60 881.70) translate(-8.60 0) scale(1.1821 1.0)" font-size="13.08" >2</text>
<text transform="translate(92.60 845.95) translate(-8.60 0) scale(1.1821 1.0)" font-size="13.08" >3</text>
<text transform="translate(92.60 814.10) translate(-8.60 0) scale(1.1821 1.0)" font-size="13.08" >4</text>
<text transform="translate(49.00 902.20) rotate(-90) translate(0.00 0) scale(0.8635 1.0)" font-size="14.24" >THE</text>
<text transform="translate(49.00 870.80) rotate(-90) translate(0.00 0) scale(0.8736 1.0)" font-size="14.24" >B</text>
<path d="M48.5 861.0v-8 M37.5 857.0h11" stroke="#000" stroke-width="1" fill="none" shape-rendering="crispEdges"/>
<text transform="translate(73.20 907.30) rotate(-90) translate(0.00 0) scale(0.9778 1.0)" font-size="14.24" >freq</text>
<text transform="translate(73.20 873.40) rotate(-90) translate(0.00 0) scale(0.9872 1.0)" font-size="14.24" >[Hz]</text>
<text transform="translate(690.60 835.38) translate(0.00 0) scale(1.0996 1.0)" font-size="13.08" >10</text>
<text transform="translate(707.20 830.18) translate(0.00 0) scale(1.1240 1.0)" font-size="8.43" >0</text>
<text transform="translate(690.60 871.13) translate(0.00 0) scale(1.0996 1.0)" font-size="13.08" >10</text>
<text transform="translate(707.20 865.93) translate(0.00 0) scale(1.2514 1.0)" font-size="8.43" >−2</text>
<text transform="translate(690.60 906.88) translate(0.00 0) scale(1.0996 1.0)" font-size="13.08" >10</text>
<text transform="translate(707.20 901.68) translate(0.00 0) scale(1.2514 1.0)" font-size="8.43" >−4</text>
<text transform="translate(690.60 942.63) translate(0.00 0) scale(1.0996 1.0)" font-size="13.08" >10</text>
<text transform="translate(707.20 937.43) translate(0.00 0) scale(1.2514 1.0)" font-size="8.43" >−6</text>
<text transform="translate(733.20 922.00) rotate(-90) translate(0.00 0) scale(0.9382 1.0)" font-size="14.24" >PSD [nT</text>
<text transform="translate(727.80 871.00) rotate(-90) translate(0.00 0) scale(1.0664 1.0)" font-size="8.43" >2</text>
<text transform="translate(733.20 865.00) rotate(-90) translate(0.00 0) scale(1.2241 1.0)" font-size="14.24" >/Hz]</text>
<text transform="translate(92.60 1091.10) translate(-8.60 0) scale(1.1821 1.0)" font-size="13.08" >0</text>
<text transform="translate(92.60 1060.45) translate(-8.60 0) scale(1.1821 1.0)" font-size="13.08" >1</text>
<text transform="translate(92.60 1024.70) translate(-8.60 0) scale(1.1821 1.0)" font-size="13.08" >2</text>
<text transform="translate(92.60 988.95) translate(-8.60 0) scale(1.1821 1.0)" font-size="13.08" >3</text>
<text transform="translate(92.60 957.10) translate(-8.60 0) scale(1.1821 1.0)" font-size="13.08" >4</text>
<text transform="translate(49.00 1043.40) rotate(-90) translate(0.00 0) scale(0.8635 1.0)" font-size="14.24" >THE</text>
<text transform="translate(49.00 1012.00) rotate(-90) translate(0.00 0) scale(0.8736 1.0)" font-size="14.24" >B</text>
<path d="M37 1001.5h11 M37 998.5h11" stroke="#000" stroke-width="1" fill="none" shape-rendering="crispEdges"/>
<text transform="translate(73.20 1050.30) rotate(-90) translate(0.00 0) scale(0.9778 1.0)" font-size="14.24" >freq</text>
<text transform="translate(73.20 1016.40) rotate(-90) translate(0.00 0) scale(0.9872 1.0)" font-size="14.24" >[Hz]</text>
<text transform="translate(690.60 978.38) translate(0.00 0) scale(1.0996 1.0)" font-size="13.08" >10</text>
<text transform="translate(707.20 973.18) translate(0.00 0) scale(1.1240 1.0)" font-size="8.43" >0</text>
<text transform="translate(690.60 1014.13) translate(0.00 0) scale(1.0996 1.0)" font-size="13.08" >10</text>
<text transform="translate(707.20 1008.93) translate(0.00 0) scale(1.2514 1.0)" font-size="8.43" >−2</text>
<text transform="translate(690.60 1049.88) translate(0.00 0) scale(1.0996 1.0)" font-size="13.08" >10</text>
<text transform="translate(707.20 1044.68) translate(0.00 0) scale(1.2514 1.0)" font-size="8.43" >−4</text>
<text transform="translate(690.60 1085.63) translate(0.00 0) scale(1.0996 1.0)" font-size="13.08" >10</text>
<text transform="translate(707.20 1080.43) translate(0.00 0) scale(1.2514 1.0)" font-size="8.43" >−6</text>
<text transform="translate(733.20 1065.00) rotate(-90) translate(0.00 0) scale(0.9382 1.0)" font-size="14.24" >PSD [nT</text>
<text transform="translate(727.80 1014.00) rotate(-90) translate(0.00 0) scale(1.0664 1.0)" font-size="8.43" >2</text>
<text transform="translate(733.20 1008.00) rotate(-90) translate(0.00 0) scale(1.2241 1.0)" font-size="14.24" >/Hz]</text>
<text transform="translate(677.0 314.5) rotate(-90) scale(1.14 1)" font-size="6.6" font-weight="bold">Mon Sep 17 12:28:04 2012</text>
<text transform="translate(677.0 714.5) rotate(-90) scale(1.14 1)" font-size="6.6" font-weight="bold">Mon Sep 17 12:28:03 2012</text>
<text transform="translate(677.0 1090.5) rotate(-90) scale(1.14 1)" font-size="6.6" font-weight="bold">Mon Sep 17 12:28:03 2012</text>
<text transform="translate(8.60 333.50) translate(0.00 0) scale(0.9265 1.0)" font-size="13.08" >X<tspan dy="-2.3">_</tspan><tspan dy="2.3">RE</tspan><tspan dy="-2.3">_</tspan><tspan dy="2.3">GSE</tspan></text>
<text transform="translate(96.50 333.50) translate(-10.65 0) scale(1.1713 1.0)" font-size="13.08" >7.5</text>
<text transform="translate(287.80 333.50) translate(-10.65 0) scale(1.1713 1.0)" font-size="13.08" >2.7</text>
<text transform="translate(479.20 333.50) translate(-10.65 0) scale(1.1713 1.0)" font-size="13.08" >9.2</text>
<text transform="translate(670.50 333.50) translate(-10.65 0) scale(1.1713 1.0)" font-size="13.08" >7.5</text>
<text transform="translate(8.60 345.50) translate(0.00 0) scale(0.9265 1.0)" font-size="13.08" >Y<tspan dy="-2.3">_</tspan><tspan dy="2.3">RE</tspan><tspan dy="-2.3">_</tspan><tspan dy="2.3">GSE</tspan></text>
<text transform="translate(96.50 345.50) translate(-16.10 0) scale(1.2469 1.0)" font-size="13.08" >−0.4</text>
<text transform="translate(287.80 345.50) translate(-16.10 0) scale(1.2469 1.0)" font-size="13.08" >−6.4</text>
<text transform="translate(479.20 345.50) translate(-16.10 0) scale(1.2469 1.0)" font-size="13.08" >−6.4</text>
<text transform="translate(670.50 345.50) translate(-16.10 0) scale(1.2469 1.0)" font-size="13.08" >−0.5</text>
<text transform="translate(8.60 357.50) translate(0.00 0) scale(0.9365 1.0)" font-size="13.08" >Z<tspan dy="-2.3">_</tspan><tspan dy="2.3">RE</tspan><tspan dy="-2.3">_</tspan><tspan dy="2.3">GSE</tspan></text>
<text transform="translate(96.50 357.50) translate(-10.65 0) scale(1.1713 1.0)" font-size="13.08" >3.7</text>
<text transform="translate(287.80 357.50) translate(-16.10 0) scale(1.2469 1.0)" font-size="13.08" >−0.3</text>
<text transform="translate(479.20 357.50) translate(-10.65 0) scale(1.1713 1.0)" font-size="13.08" >3.0</text>
<text transform="translate(670.50 357.50) translate(-10.65 0) scale(1.1713 1.0)" font-size="13.08" >3.6</text>
<text transform="translate(8.60 369.50) translate(0.00 0) scale(0.9340 1.0)" font-size="13.08" >MLAT<tspan dy="-2.3">_</tspan><tspan dy="2.3">SM</tspan></text>
<text transform="translate(96.50 369.50) translate(-10.65 0) scale(1.1713 1.0)" font-size="13.08" >1.0</text>
<text transform="translate(287.80 369.50) translate(-10.65 0) scale(1.1713 1.0)" font-size="13.08" >1.3</text>
<text transform="translate(479.20 369.50) translate(-14.90 0) scale(1.1705 1.0)" font-size="13.08" >10.3</text>
<text transform="translate(670.50 369.50) translate(-10.65 0) scale(1.1713 1.0)" font-size="13.08" >0.9</text>
<text transform="translate(8.60 381.50) translate(0.00 0) scale(0.9368 1.0)" font-size="13.08" >MLT<tspan dy="-2.3">_</tspan><tspan dy="2.3">SM</tspan></text>
<text transform="translate(96.50 381.50) translate(-14.90 0) scale(1.2169 1.0)" font-size="13.08" >11.8</text>
<text transform="translate(287.80 381.50) translate(-10.65 0) scale(1.1713 1.0)" font-size="13.08" >7.8</text>
<text transform="translate(479.20 381.50) translate(-14.90 0) scale(1.1705 1.0)" font-size="13.08" >10.0</text>
<text transform="translate(670.50 381.50) translate(-14.90 0) scale(1.2169 1.0)" font-size="13.08" >11.7</text>
<text transform="translate(8.60 393.50) translate(0.00 0) scale(0.9322 1.0)" font-size="13.08" >R<tspan dy="-2.3">_</tspan><tspan dy="2.3">RE</tspan><tspan dy="-2.3">_</tspan><tspan dy="2.3">SM</tspan></text>
<text transform="translate(96.50 393.50) translate(-10.65 0) scale(1.1713 1.0)" font-size="13.08" >8.4</text>
<text transform="translate(287.80 393.50) translate(-10.65 0) scale(1.1713 1.0)" font-size="13.08" >6.9</text>
<text transform="translate(479.20 393.50) translate(-14.90 0) scale(1.2169 1.0)" font-size="13.08" >11.6</text>
<text transform="translate(670.50 393.50) translate(-10.65 0) scale(1.1713 1.0)" font-size="13.08" >8.3</text>
<text transform="translate(8.60 733.50) translate(0.00 0) scale(0.9265 1.0)" font-size="13.08" >X<tspan dy="-2.3">_</tspan><tspan dy="2.3">RE</tspan><tspan dy="-2.3">_</tspan><tspan dy="2.3">GSE</tspan></text>
<text transform="translate(96.50 733.50) translate(-10.65 0) scale(1.1713 1.0)" font-size="13.08" >7.7</text>
<text transform="translate(287.80 733.50) translate(-10.65 0) scale(1.1713 1.0)" font-size="13.08" >3.0</text>
<text transform="translate(479.20 733.50) translate(-10.65 0) scale(1.1713 1.0)" font-size="13.08" >9.6</text>
<text transform="translate(670.50 733.50) translate(-10.65 0) scale(1.1713 1.0)" font-size="13.08" >7.7</text>
<text transform="translate(8.60 745.50) translate(0.00 0) scale(0.9265 1.0)" font-size="13.08" >Y<tspan dy="-2.3">_</tspan><tspan dy="2.3">RE</tspan><tspan dy="-2.3">_</tspan><tspan dy="2.3">GSE</tspan></text>
<text transform="translate(96.50 745.50) translate(-16.10 0) scale(1.2469 1.0)" font-size="13.08" >−0.0</text>
<text transform="translate(287.80 745.50) translate(-16.10 0) scale(1.2469 1.0)" font-size="13.08" >−6.3</text>
<text transform="translate(479.20 745.50) translate(-16.10 0) scale(1.2469 1.0)" font-size="13.08" >−5.9</text>
<text transform="translate(670.50 745.50) translate(-16.10 0) scale(1.2469 1.0)" font-size="13.08" >−0.1</text>
<text transform="translate(8.60 757.50) translate(0.00 0) scale(0.9365 1.0)" font-size="13.08" >Z<tspan dy="-2.3">_</tspan><tspan dy="2.3">RE</tspan><tspan dy="-2.3">_</tspan><tspan dy="2.3">GSE</tspan></text>
<text transform="translate(96.50 757.50) translate(-10.65 0) scale(1.1713 1.0)" font-size="13.08" >3.3</text>
<text transform="translate(287.80 757.50) translate(-10.65 0) scale(1.1713 1.0)" font-size="13.08" >0.2</text>
<text transform="translate(479.20 757.50) translate(-10.65 0) scale(1.1713 1.0)" font-size="13.08" >3.1</text>
<text transform="translate(670.50 757.50) translate(-10.65 0) scale(1.1713 1.0)" font-size="13.08" >3.3</text>
<text transform="translate(8.60 769.50) translate(0.00 0) scale(0.9340 1.0)" font-size="13.08" >MLAT<tspan dy="-2.3">_</tspan><tspan dy="2.3">SM</tspan></text>
<text transform="translate(96.50 769.50) translate(-16.10 0) scale(1.2469 1.0)" font-size="13.08" >−1.6</text>
<text transform="translate(287.80 769.50) translate(-10.65 0) scale(1.1713 1.0)" font-size="13.08" >3.5</text>
<text transform="translate(479.20 769.50) translate(-14.90 0) scale(1.1705 1.0)" font-size="13.08" >10.2</text>
<text transform="translate(670.50 769.50) translate(-16.10 0) scale(1.2469 1.0)" font-size="13.08" >−1.7</text>
<text transform="translate(8.60 781.50) translate(0.00 0) scale(0.9368 1.0)" font-size="13.08" >MLT<tspan dy="-2.3">_</tspan><tspan dy="2.3">SM</tspan></text>
<text transform="translate(96.50 781.50) translate(-14.90 0) scale(1.1705 1.0)" font-size="13.08" >12.0</text>
<text transform="translate(287.80 781.50) translate(-10.65 0) scale(1.1713 1.0)" font-size="13.08" >8.1</text>
<text transform="translate(479.20 781.50) translate(-14.90 0) scale(1.1705 1.0)" font-size="13.08" >10.2</text>
<text transform="translate(670.50 781.50) translate(-14.90 0) scale(1.2169 1.0)" font-size="13.08" >11.9</text>
<text transform="translate(8.60 793.50) translate(0.00 0) scale(0.9322 1.0)" font-size="13.08" >R<tspan dy="-2.3">_</tspan><tspan dy="2.3">RE</tspan><tspan dy="-2.3">_</tspan><tspan dy="2.3">SM</tspan></text>
<text transform="translate(96.50 793.50) translate(-10.65 0) scale(1.1713 1.0)" font-size="13.08" >8.4</text>
<text transform="translate(287.80 793.50) translate(-10.65 0) scale(1.1713 1.0)" font-size="13.08" >7.0</text>
<text transform="translate(479.20 793.50) translate(-14.90 0) scale(1.2169 1.0)" font-size="13.08" >11.7</text>
<text transform="translate(670.50 793.50) translate(-10.65 0) scale(1.1713 1.0)" font-size="13.08" >8.4</text>
<text transform="translate(8.60 1109.50) translate(0.00 0) scale(0.9265 1.0)" font-size="13.08" >X<tspan dy="-2.3">_</tspan><tspan dy="2.3">RE</tspan><tspan dy="-2.3">_</tspan><tspan dy="2.3">GSE</tspan></text>
<text transform="translate(96.50 1109.50) translate(-10.65 0) scale(1.1713 1.0)" font-size="13.08" >7.9</text>
<text transform="translate(287.80 1109.50) translate(-10.65 0) scale(1.1713 1.0)" font-size="13.08" >2.4</text>
<text transform="translate(479.20 1109.50) translate(-10.65 0) scale(1.1713 1.0)" font-size="13.08" >9.3</text>
<text transform="translate(670.50 1109.50) translate(-10.65 0) scale(1.1713 1.0)" font-size="13.08" >7.8</text>
<text transform="translate(8.60 1121.50) translate(0.00 0) scale(0.9265 1.0)" font-size="13.08" >Y<tspan dy="-2.3">_</tspan><tspan dy="2.3">RE</tspan><tspan dy="-2.3">_</tspan><tspan dy="2.3">GSE</tspan></text>
<text transform="translate(96.50 1121.50) translate(-16.10 0) scale(1.2469 1.0)" font-size="13.08" >−0.3</text>
<text transform="translate(287.80 1121.50) translate(-16.10 0) scale(1.2469 1.0)" font-size="13.08" >−6.2</text>
<text transform="translate(479.20 1121.50) translate(-16.10 0) scale(1.2469 1.0)" font-size="13.08" >−6.2</text>
<text transform="translate(670.50 1121.50) translate(-16.10 0) scale(1.2469 1.0)" font-size="13.08" >−0.4</text>
<text transform="translate(8.60 1133.50) translate(0.00 0) scale(0.9365 1.0)" font-size="13.08" >Z<tspan dy="-2.3">_</tspan><tspan dy="2.3">RE</tspan><tspan dy="-2.3">_</tspan><tspan dy="2.3">GSE</tspan></text>
<text transform="translate(96.50 1133.50) translate(-10.65 0) scale(1.1713 1.0)" font-size="13.08" >3.3</text>
<text transform="translate(287.80 1133.50) translate(-16.10 0) scale(1.2469 1.0)" font-size="13.08" >−0.1</text>
<text transform="translate(479.20 1133.50) translate(-10.65 0) scale(1.1713 1.0)" font-size="13.08" >2.9</text>
<text transform="translate(670.50 1133.50) translate(-10.65 0) scale(1.1713 1.0)" font-size="13.08" >3.3</text>
<text transform="translate(8.60 1145.50) translate(0.00 0) scale(0.9340 1.0)" font-size="13.08" >MLAT<tspan dy="-2.3">_</tspan><tspan dy="2.3">SM</tspan></text>
<text transform="translate(96.50 1145.50) translate(-16.10 0) scale(1.2469 1.0)" font-size="13.08" >−2.1</text>
<text transform="translate(287.80 1145.50) translate(-10.65 0) scale(1.1713 1.0)" font-size="13.08" >3.7</text>
<text transform="translate(479.20 1145.50) translate(-10.65 0) scale(1.1713 1.0)" font-size="13.08" >9.6</text>
<text transform="translate(670.50 1145.50) translate(-16.10 0) scale(1.2469 1.0)" font-size="13.08" >−2.2</text>
<text transform="translate(8.60 1157.50) translate(0.00 0) scale(0.9368 1.0)" font-size="13.08" >MLT<tspan dy="-2.3">_</tspan><tspan dy="2.3">SM</tspan></text>
<text transform="translate(96.50 1157.50) translate(-14.90 0) scale(1.2169 1.0)" font-size="13.08" >11.8</text>
<text transform="translate(287.80 1157.50) translate(-10.65 0) scale(1.1713 1.0)" font-size="13.08" >7.8</text>
<text transform="translate(479.20 1157.50) translate(-14.90 0) scale(1.1705 1.0)" font-size="13.08" >10.0</text>
<text transform="translate(670.50 1157.50) translate(-14.90 0) scale(1.2169 1.0)" font-size="13.08" >11.8</text>
<text transform="translate(8.60 1169.50) translate(0.00 0) scale(0.9322 1.0)" font-size="13.08" >R<tspan dy="-2.3">_</tspan><tspan dy="2.3">RE</tspan><tspan dy="-2.3">_</tspan><tspan dy="2.3">SM</tspan></text>
<text transform="translate(96.50 1169.50) translate(-10.65 0) scale(1.1713 1.0)" font-size="13.08" >8.6</text>
<text transform="translate(287.80 1169.50) translate(-10.65 0) scale(1.1713 1.0)" font-size="13.08" >6.7</text>
<text transform="translate(479.20 1169.50) translate(-14.90 0) scale(1.2169 1.0)" font-size="13.08" >11.6</text>
<text transform="translate(670.50 1169.50) translate(-10.65 0) scale(1.1713 1.0)" font-size="13.08" >8.5</text>
<text transform="translate(8.60 1181.50) translate(0.00 0) scale(1.0318 1.0)" font-size="13.08" >hhmm</text>
<text transform="translate(96.50 1181.50) translate(-17.00 0) scale(1.1683 1.0)" font-size="13.08" >0000</text>
<text transform="translate(287.80 1181.50) translate(-17.00 0) scale(1.1683 1.0)" font-size="13.08" >0800</text>
<text transform="translate(479.20 1181.50) translate(-17.00 0) scale(1.1683 1.0)" font-size="13.08" >1600</text>
<text transform="translate(670.50 1181.50) translate(-17.00 0) scale(1.1683 1.0)" font-size="13.08" >0000</text>
<text transform="translate(8.60 1193.50) translate(0.00 0) scale(1.1683 1.0)" font-size="13.08" >2010</text>
<text transform="translate(95.50 1193.50) translate(-23.25 0) scale(1.1219 1.0)" font-size="13.08" >Dec 01</text>
<text transform="translate(669.50 1193.50) translate(-23.25 0) scale(1.1219 1.0)" font-size="13.08" >Dec 02</text>
</svg>
</body></html>
